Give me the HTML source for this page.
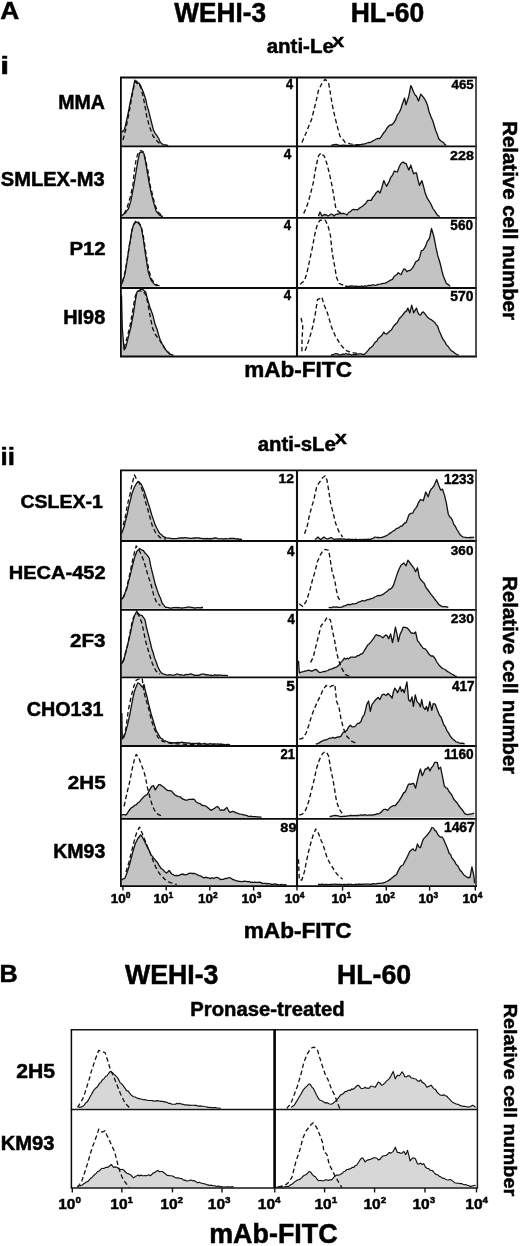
<!DOCTYPE html>
<html><head><meta charset="utf-8"><title>Figure</title>
<style>
html,body{margin:0;padding:0;background:#fff;}
body{width:520px;height:1246px;overflow:hidden;}
svg{display:block;filter:blur(0.35px);}
svg text{font-family:"Liberation Sans", sans-serif;font-weight:bold;fill:#000;stroke:#000;stroke-width:0.5px;}
.num text{stroke-width:0.4px;}
</style></head>
<body>
<svg width="520" height="1246" viewBox="0 0 520 1246">
<rect x="0" y="0" width="520" height="1246" fill="#fff"/>
<polygon points="121.5,146.0 121.5,132.1 124.0,130.4 125.3,126.2 126.7,120.0 128.4,112.0 130.1,102.7 132.7,90.6 134.8,80.2 137.0,83.7 138.8,82.8 140.5,85.4 143.1,91.4 145.7,99.2 147.0,105.4 148.3,109.6 150.9,120.0 153.5,130.4 155.2,133.4 156.9,135.6 158.7,138.5 160.4,142.5 163.0,144.6 164.7,144.9 166.5,145.0 168.2,145.6 168.2,146.0" fill="#c3c3c3" stroke="none"/>
<polyline points="123.0,140.0 126.0,128.0 129.0,113.0 132.0,96.0 134.5,84.0 136.5,81.0 139.0,84.0 141.0,88.0 143.0,96.0 145.0,106.0 147.0,118.0 150.0,128.0 153.0,136.0 155.0,138.6 157.0,141.0 159.0,142.9 161.0,144.5" fill="none" stroke="#111" stroke-width="1.35" stroke-dasharray="4.5 2.8" stroke-linejoin="round" stroke-linecap="butt"/>
<polyline points="121.5,132.1 124.0,130.4 125.3,126.2 126.7,120.0 128.4,112.0 130.1,102.7 132.7,90.6 134.8,80.2 137.0,83.7 138.8,82.8 140.5,85.4 143.1,91.4 145.7,99.2 147.0,105.4 148.3,109.6 150.9,120.0 153.5,130.4 155.2,133.4 156.9,135.6 158.7,138.5 160.4,142.5 163.0,144.6 164.7,144.9 166.5,145.0 168.2,145.6" fill="none" stroke="#111" stroke-width="1.3" stroke-linejoin="round"/>
<polygon points="331.0,146.0 331.0,145.5 332.7,144.9 334.3,144.6 336.0,144.5 337.3,144.7 338.7,145.3 340.0,145.5 341.3,145.5 342.7,145.2 344.0,145.1 345.3,145.3 346.7,145.3 348.0,145.3 349.3,145.4 350.7,145.7 352.0,145.4 353.3,145.2 354.7,145.2 356.0,145.5 357.3,145.4 358.7,145.0 360.0,144.7 361.3,144.5 362.7,144.2 364.0,144.2 365.5,143.6 367.0,143.0 368.5,142.5 370.0,142.5 371.6,141.8 373.1,140.7 374.7,140.0 376.3,139.0 378.1,138.3 380.0,138.5 381.9,135.7 383.8,132.7 385.4,130.9 387.1,128.0 388.7,126.0 390.1,125.0 391.5,125.0 393.4,123.3 395.4,120.2 397.3,115.2 399.2,112.5 400.6,109.6 402.1,104.8 404.6,98.1 406.0,104.8 407.4,100.5 408.8,96.2 410.8,85.6 412.2,88.4 413.7,92.3 415.1,95.0 416.5,96.2 418.5,101.0 420.8,94.2 423.3,97.1 424.8,99.3 426.2,101.9 427.6,105.5 429.0,111.5 430.9,116.6 432.9,121.2 434.4,126.3 435.8,130.8 437.2,134.1 438.7,138.5 440.1,140.4 441.5,141.3 443.1,142.2 444.7,144.3 446.3,145.2 446.3,146.0" fill="#c3c3c3" stroke="none"/>
<polyline points="301.9,142.5 303.6,138.7 305.4,134.5 307.1,130.4 309.2,125.1 311.4,120.0 314.0,109.6 316.6,99.2 318.4,90.6 320.5,86.2 322.7,81.9 325.3,79.3 327.0,81.3 328.7,83.7 330.5,94.0 332.2,104.4 334.8,116.5 337.4,126.9 340.0,136.4 341.7,138.3 343.5,140.2 345.2,142.5 346.9,142.9 348.6,143.3 350.4,143.8 352.1,144.2 353.8,144.3 355.6,144.6 357.3,144.7 359.1,144.7 360.8,145.0" fill="none" stroke="#111" stroke-width="1.35" stroke-dasharray="4.5 2.8" stroke-linejoin="round" stroke-linecap="butt"/>
<polyline points="331.0,145.5 332.7,144.9 334.3,144.6 336.0,144.5 337.3,144.7 338.7,145.3 340.0,145.5 341.3,145.5 342.7,145.2 344.0,145.1 345.3,145.3 346.7,145.3 348.0,145.3 349.3,145.4 350.7,145.7 352.0,145.4 353.3,145.2 354.7,145.2 356.0,145.5 357.3,145.4 358.7,145.0 360.0,144.7 361.3,144.5 362.7,144.2 364.0,144.2 365.5,143.6 367.0,143.0 368.5,142.5 370.0,142.5 371.6,141.8 373.1,140.7 374.7,140.0 376.3,139.0 378.1,138.3 380.0,138.5 381.9,135.7 383.8,132.7 385.4,130.9 387.1,128.0 388.7,126.0 390.1,125.0 391.5,125.0 393.4,123.3 395.4,120.2 397.3,115.2 399.2,112.5 400.6,109.6 402.1,104.8 404.6,98.1 406.0,104.8 407.4,100.5 408.8,96.2 410.8,85.6 412.2,88.4 413.7,92.3 415.1,95.0 416.5,96.2 418.5,101.0 420.8,94.2 423.3,97.1 424.8,99.3 426.2,101.9 427.6,105.5 429.0,111.5 430.9,116.6 432.9,121.2 434.4,126.3 435.8,130.8 437.2,134.1 438.7,138.5 440.1,140.4 441.5,141.3 443.1,142.2 444.7,144.3 446.3,145.2" fill="none" stroke="#111" stroke-width="1.3" stroke-linejoin="round"/>
<polygon points="121.5,217.3 121.5,216.0 122.9,214.6 124.4,213.7 125.8,212.5 127.1,210.2 128.4,209.0 131.0,200.4 133.6,186.5 136.2,171.0 137.9,160.6 139.6,152.8 142.2,151.9 144.0,153.7 145.7,162.3 147.4,172.7 149.2,183.1 150.9,191.7 153.5,202.1 156.1,210.8 157.8,213.1 159.5,215.1 161.2,216.0 163.0,216.3 163.0,217.3" fill="#c3c3c3" stroke="none"/>
<polyline points="124.0,214.0 127.0,208.0 130.0,198.0 132.7,186.5 134.4,171.0 136.2,158.8 138.5,152.0 141.0,150.5 143.5,152.0 145.5,160.0 148.3,172.7 150.0,184.8 152.6,195.2 155.0,205.0 158.0,212.0 160.0,213.9 162.0,215.5" fill="none" stroke="#111" stroke-width="1.35" stroke-dasharray="4.5 2.8" stroke-linejoin="round" stroke-linecap="butt"/>
<polyline points="121.5,216.0 122.9,214.6 124.4,213.7 125.8,212.5 127.1,210.2 128.4,209.0 131.0,200.4 133.6,186.5 136.2,171.0 137.9,160.6 139.6,152.8 142.2,151.9 144.0,153.7 145.7,162.3 147.4,172.7 149.2,183.1 150.9,191.7 153.5,202.1 156.1,210.8 157.8,213.1 159.5,215.1 161.2,216.0 163.0,216.3" fill="none" stroke="#111" stroke-width="1.3" stroke-linejoin="round"/>
<polygon points="318.4,217.3 318.4,216.0 320.0,212.0 322.0,216.0 323.5,214.9 325.0,214.5 326.5,214.9 328.0,216.0 329.5,215.2 331.0,214.0 332.5,214.6 334.0,216.0 335.5,214.7 337.0,214.0 338.5,214.0 340.0,213.5 341.3,213.7 342.7,213.3 344.0,213.5 345.5,214.0 347.0,215.0 348.7,212.5 350.4,211.6 352.1,209.9 353.8,209.4 355.6,209.6 357.3,209.9 359.1,208.4 360.8,207.3 362.5,206.3 364.2,204.7 365.9,203.2 367.7,200.4 369.4,200.4 371.2,200.4 372.9,197.1 374.6,195.2 376.4,192.4 378.1,190.9 380.0,193.1 381.9,187.2 383.8,180.6 385.2,183.5 386.7,186.3 388.0,183.6 389.3,181.3 390.6,177.7 392.5,175.1 394.4,171.0 395.9,171.7 397.3,171.9 399.2,166.8 401.2,163.3 403.1,161.9 404.6,163.3 406.0,163.3 407.4,166.8 408.8,170.0 410.8,165.2 412.2,169.8 413.7,173.8 415.1,173.0 416.5,172.9 417.9,179.3 419.4,185.4 421.9,180.6 423.5,186.2 425.2,193.1 427.1,197.9 429.0,200.8 430.9,204.0 432.9,208.5 434.8,211.2 436.7,214.2 438.1,215.6 439.6,216.5 439.6,217.3" fill="#c3c3c3" stroke="none"/>
<polyline points="303.7,213.4 305.4,209.7 307.1,205.6 308.9,199.8 310.6,193.5 313.2,183.1 314.9,172.7 316.6,164.0 318.4,156.2 321.0,152.8 322.7,154.7 324.4,156.2 327.0,164.0 329.6,174.4 332.2,186.5 333.9,196.9 335.7,207.3 338.3,211.6 340.0,212.4 341.7,213.4" fill="none" stroke="#111" stroke-width="1.35" stroke-dasharray="4.5 2.8" stroke-linejoin="round" stroke-linecap="butt"/>
<polyline points="318.4,216.0 320.0,212.0 322.0,216.0 323.5,214.9 325.0,214.5 326.5,214.9 328.0,216.0 329.5,215.2 331.0,214.0 332.5,214.6 334.0,216.0 335.5,214.7 337.0,214.0 338.5,214.0 340.0,213.5 341.3,213.7 342.7,213.3 344.0,213.5 345.5,214.0 347.0,215.0 348.7,212.5 350.4,211.6 352.1,209.9 353.8,209.4 355.6,209.6 357.3,209.9 359.1,208.4 360.8,207.3 362.5,206.3 364.2,204.7 365.9,203.2 367.7,200.4 369.4,200.4 371.2,200.4 372.9,197.1 374.6,195.2 376.4,192.4 378.1,190.9 380.0,193.1 381.9,187.2 383.8,180.6 385.2,183.5 386.7,186.3 388.0,183.6 389.3,181.3 390.6,177.7 392.5,175.1 394.4,171.0 395.9,171.7 397.3,171.9 399.2,166.8 401.2,163.3 403.1,161.9 404.6,163.3 406.0,163.3 407.4,166.8 408.8,170.0 410.8,165.2 412.2,169.8 413.7,173.8 415.1,173.0 416.5,172.9 417.9,179.3 419.4,185.4 421.9,180.6 423.5,186.2 425.2,193.1 427.1,197.9 429.0,200.8 430.9,204.0 432.9,208.5 434.8,211.2 436.7,214.2 438.1,215.6 439.6,216.5" fill="none" stroke="#111" stroke-width="1.3" stroke-linejoin="round"/>
<polygon points="121.5,286.8 121.5,284.2 124.1,277.3 125.4,271.3 126.7,263.5 129.2,246.2 130.5,239.3 131.8,230.6 133.6,224.5 135.3,222.8 137.0,221.9 139.6,224.5 141.4,228.0 143.1,237.5 144.8,249.6 146.6,261.7 148.3,272.1 150.9,279.9 152.6,282.1 154.3,284.2 156.1,285.2 157.8,285.6 157.8,286.8" fill="#c3c3c3" stroke="none"/>
<polyline points="122.5,282.0 125.0,272.0 127.5,258.0 130.0,242.0 132.0,230.0 134.0,224.0 136.0,220.5 138.5,222.0 141.0,226.0 143.0,234.0 145.0,247.0 147.0,260.0 149.0,271.0 152.0,280.0 154.0,282.1 156.0,284.5 158.0,285.3 160.0,285.8" fill="none" stroke="#111" stroke-width="1.35" stroke-dasharray="4.5 2.8" stroke-linejoin="round" stroke-linecap="butt"/>
<polyline points="121.5,284.2 124.1,277.3 125.4,271.3 126.7,263.5 129.2,246.2 130.5,239.3 131.8,230.6 133.6,224.5 135.3,222.8 137.0,221.9 139.6,224.5 141.4,228.0 143.1,237.5 144.8,249.6 146.6,261.7 148.3,272.1 150.9,279.9 152.6,282.1 154.3,284.2 156.1,285.2 157.8,285.6" fill="none" stroke="#111" stroke-width="1.3" stroke-linejoin="round"/>
<polygon points="345.0,287.7 345.0,286.5 346.4,286.2 347.8,286.3 349.2,286.3 350.6,286.0 352.0,286.0 353.3,286.2 354.7,286.4 356.0,286.2 357.3,286.4 358.7,286.4 360.0,286.5 361.3,286.0 362.7,286.3 364.0,286.1 365.3,286.0 366.7,286.1 368.0,285.5 369.4,285.4 370.8,285.7 372.1,284.9 373.5,284.9 374.9,285.3 376.3,285.1 378.1,284.3 380.0,284.2 381.9,283.7 383.8,283.3 385.4,283.1 387.1,282.3 388.7,281.3 390.6,280.1 392.5,279.4 393.9,276.8 395.4,275.6 396.9,274.5 398.3,272.7 399.8,274.0 401.2,274.6 402.6,271.3 404.0,268.8 405.4,269.6 406.9,271.7 408.2,270.7 409.5,270.7 410.8,269.8 412.2,268.4 413.7,266.0 415.6,262.1 417.1,260.9 418.5,260.2 419.9,256.4 421.3,250.6 422.8,250.4 424.2,248.7 425.6,246.1 427.1,241.9 429.6,238.1 431.5,228.5 433.8,236.2 435.8,246.7 437.7,255.4 439.1,259.7 440.6,265.0 442.1,271.6 443.5,276.5 444.9,279.9 446.3,283.3 448.2,284.6 450.2,286.2 450.2,287.7" fill="#c3c3c3" stroke="none"/>
<polyline points="300.2,284.2 302.4,282.3 304.5,280.8 307.1,272.1 309.7,260.0 312.3,247.9 314.9,234.0 317.5,223.7 320.1,220.2 321.8,220.2 323.6,220.1 325.3,220.2 327.9,225.4 330.5,235.8 332.2,253.1 334.8,266.9 336.5,277.3 339.1,283.4 341.3,284.4 343.5,285.1" fill="none" stroke="#111" stroke-width="1.35" stroke-dasharray="4.5 2.8" stroke-linejoin="round" stroke-linecap="butt"/>
<polyline points="345.0,286.5 346.4,286.2 347.8,286.3 349.2,286.3 350.6,286.0 352.0,286.0 353.3,286.2 354.7,286.4 356.0,286.2 357.3,286.4 358.7,286.4 360.0,286.5 361.3,286.0 362.7,286.3 364.0,286.1 365.3,286.0 366.7,286.1 368.0,285.5 369.4,285.4 370.8,285.7 372.1,284.9 373.5,284.9 374.9,285.3 376.3,285.1 378.1,284.3 380.0,284.2 381.9,283.7 383.8,283.3 385.4,283.1 387.1,282.3 388.7,281.3 390.6,280.1 392.5,279.4 393.9,276.8 395.4,275.6 396.9,274.5 398.3,272.7 399.8,274.0 401.2,274.6 402.6,271.3 404.0,268.8 405.4,269.6 406.9,271.7 408.2,270.7 409.5,270.7 410.8,269.8 412.2,268.4 413.7,266.0 415.6,262.1 417.1,260.9 418.5,260.2 419.9,256.4 421.3,250.6 422.8,250.4 424.2,248.7 425.6,246.1 427.1,241.9 429.6,238.1 431.5,228.5 433.8,236.2 435.8,246.7 437.7,255.4 439.1,259.7 440.6,265.0 442.1,271.6 443.5,276.5 444.9,279.9 446.3,283.3 448.2,284.6 450.2,286.2" fill="none" stroke="#111" stroke-width="1.3" stroke-linejoin="round"/>
<polygon points="121.5,356.0 121.5,295.4 122.3,328.3 124.1,349.9 125.8,347.3 127.1,342.2 128.4,336.9 131.0,326.5 133.6,312.7 135.3,300.6 137.0,291.9 139.6,290.2 141.1,289.3 142.5,289.3 144.0,290.5 145.7,291.9 147.4,298.8 150.0,307.5 152.6,314.4 155.2,324.8 156.9,328.8 158.7,335.2 160.4,340.4 162.1,343.8 163.6,346.1 165.0,348.8 166.5,350.8 168.2,352.5 169.9,354.2 171.7,354.6 173.4,355.1 173.4,356.0" fill="#c3c3c3" stroke="none"/>
<polyline points="124.0,348.0 127.0,338.0 130.0,326.0 132.5,312.0 134.5,300.0 136.5,292.0 139.0,290.5 141.0,291.1 143.0,291.0 146.0,295.0 148.3,305.8 150.5,318.0 152.6,328.3 155.0,334.0 158.0,338.0 160.0,340.7 162.0,344.0 164.0,347.3 166.0,350.0 168.0,351.9 170.0,354.0" fill="none" stroke="#111" stroke-width="1.35" stroke-dasharray="4.5 2.8" stroke-linejoin="round" stroke-linecap="butt"/>
<polyline points="121.5,295.4 122.3,328.3 124.1,349.9 125.8,347.3 127.1,342.2 128.4,336.9 131.0,326.5 133.6,312.7 135.3,300.6 137.0,291.9 139.6,290.2 141.1,289.3 142.5,289.3 144.0,290.5 145.7,291.9 147.4,298.8 150.0,307.5 152.6,314.4 155.2,324.8 156.9,328.8 158.7,335.2 160.4,340.4 162.1,343.8 163.6,346.1 165.0,348.8 166.5,350.8 168.2,352.5 169.9,354.2 171.7,354.6 173.4,355.1" fill="none" stroke="#111" stroke-width="1.3" stroke-linejoin="round"/>
<polygon points="331.0,356.2 331.0,355.0 332.7,354.8 334.3,354.2 336.0,353.5 337.3,353.9 338.7,354.6 340.0,355.0 341.5,354.7 343.0,354.0 344.5,354.3 346.0,353.5 347.5,354.3 349.0,354.0 350.5,354.6 352.0,355.0 353.5,354.5 355.0,354.6 356.5,354.5 358.0,354.0 359.5,353.9 361.0,353.9 362.5,354.4 364.0,354.5 365.9,352.9 367.7,350.8 369.4,348.6 371.2,347.2 372.9,345.6 374.2,343.6 375.5,341.9 376.8,341.2 378.1,338.7 380.0,336.9 381.9,335.2 383.8,332.1 385.2,333.7 386.7,334.0 388.1,332.7 389.6,331.2 391.6,329.7 393.5,326.3 395.4,324.3 397.3,322.5 399.2,318.8 401.2,316.7 403.1,314.5 405.0,311.9 406.4,311.1 407.9,308.1 409.8,312.9 411.7,305.2 413.7,312.9 415.1,310.4 416.5,308.1 417.9,312.6 419.4,314.8 420.7,314.9 422.0,312.6 423.3,311.9 425.2,314.0 427.1,316.7 429.1,318.5 431.0,319.6 432.9,321.0 434.8,322.5 436.2,324.6 437.7,326.3 439.1,330.8 440.6,334.0 442.1,337.6 443.5,339.8 444.9,341.8 446.3,344.6 448.2,346.5 450.2,349.4 451.8,351.0 453.4,351.9 455.0,353.3 456.9,354.5 458.8,355.2 458.8,356.2" fill="#c3c3c3" stroke="none"/>
<polyline points="301.1,317.9 302.8,326.5 302.0,340.0 301.9,350.8 305.0,351.0 306.9,346.0 308.8,340.4 310.6,334.4 312.3,328.3 314.9,316.2 317.5,299.7 319.6,298.6 321.8,297.1 324.4,305.8 326.1,309.6 327.9,314.4 329.6,320.4 331.3,326.5 333.5,331.8 335.7,336.9 337.9,340.2 340.0,343.8 341.7,345.9 343.5,348.0 345.2,349.9 346.9,350.9 348.7,351.5 350.4,352.5 352.1,352.8 353.9,352.9 355.6,353.1 357.3,353.4" fill="none" stroke="#111" stroke-width="1.35" stroke-dasharray="4.5 2.8" stroke-linejoin="round" stroke-linecap="butt"/>
<polyline points="331.0,355.0 332.7,354.8 334.3,354.2 336.0,353.5 337.3,353.9 338.7,354.6 340.0,355.0 341.5,354.7 343.0,354.0 344.5,354.3 346.0,353.5 347.5,354.3 349.0,354.0 350.5,354.6 352.0,355.0 353.5,354.5 355.0,354.6 356.5,354.5 358.0,354.0 359.5,353.9 361.0,353.9 362.5,354.4 364.0,354.5 365.9,352.9 367.7,350.8 369.4,348.6 371.2,347.2 372.9,345.6 374.2,343.6 375.5,341.9 376.8,341.2 378.1,338.7 380.0,336.9 381.9,335.2 383.8,332.1 385.2,333.7 386.7,334.0 388.1,332.7 389.6,331.2 391.6,329.7 393.5,326.3 395.4,324.3 397.3,322.5 399.2,318.8 401.2,316.7 403.1,314.5 405.0,311.9 406.4,311.1 407.9,308.1 409.8,312.9 411.7,305.2 413.7,312.9 415.1,310.4 416.5,308.1 417.9,312.6 419.4,314.8 420.7,314.9 422.0,312.6 423.3,311.9 425.2,314.0 427.1,316.7 429.1,318.5 431.0,319.6 432.9,321.0 434.8,322.5 436.2,324.6 437.7,326.3 439.1,330.8 440.6,334.0 442.1,337.6 443.5,339.8 444.9,341.8 446.3,344.6 448.2,346.5 450.2,349.4 451.8,351.0 453.4,351.9 455.0,353.3 456.9,354.5 458.8,355.2" fill="none" stroke="#111" stroke-width="1.3" stroke-linejoin="round"/>
<line x1="120.0" y1="77.5" x2="477.0" y2="77.5" stroke="#0a0a0a" stroke-width="1.8"/>
<line x1="120.0" y1="146.4" x2="477.0" y2="146.4" stroke="#0a0a0a" stroke-width="1.8"/>
<line x1="120.0" y1="217.9" x2="477.0" y2="217.9" stroke="#0a0a0a" stroke-width="1.8"/>
<line x1="120.0" y1="288.0" x2="477.0" y2="288.0" stroke="#0a0a0a" stroke-width="1.8"/>
<line x1="120.0" y1="356.5" x2="477.0" y2="356.5" stroke="#0a0a0a" stroke-width="1.8"/>
<line x1="120.9" y1="77.5" x2="120.9" y2="356.5" stroke="#0a0a0a" stroke-width="1.8"/>
<line x1="297.0" y1="77.5" x2="297.0" y2="356.5" stroke="#111" stroke-width="2.1"/>
<line x1="476.0" y1="77.5" x2="476.0" y2="356.5" stroke="#333" stroke-width="1.7"/>
<polygon points="121.5,540.3 121.5,533.8 124.1,526.8 125.4,521.2 126.7,516.5 129.2,504.3 130.5,499.9 131.8,494.0 134.4,487.0 137.0,482.7 138.8,481.8 141.4,484.4 144.0,490.5 146.6,498.3 149.2,506.1 151.7,514.7 153.4,519.6 155.2,525.1 156.9,528.3 158.7,532.0 160.1,533.7 161.6,534.7 163.0,536.4 164.7,537.2 166.5,537.9 168.2,538.1 169.6,538.1 170.9,538.5 172.3,538.6 173.6,538.6 175.0,538.6 176.4,538.7 177.8,538.3 179.2,537.8 180.6,538.2 182.0,537.6 183.3,538.1 184.7,537.6 186.0,537.6 187.3,538.1 188.7,538.1 190.0,538.4 191.3,538.4 192.7,538.1 194.0,537.9 195.3,538.0 196.7,537.8 198.0,537.8 199.3,538.0 200.7,538.3 202.0,538.3 203.3,538.8 204.7,538.3 206.0,538.8 207.3,538.5 208.7,538.8 210.0,538.5 211.3,538.8 212.7,538.5 214.0,538.2 215.3,537.9 216.7,538.1 218.0,538.6 219.3,539.0 220.7,538.5 222.0,538.9 223.4,539.0 224.9,538.8 226.3,538.5 227.7,539.0 229.1,538.5 230.6,538.4 232.0,538.5 233.4,538.3 234.9,538.5 236.3,539.2 237.7,538.6 239.1,539.4 240.6,539.2 242.0,539.3 242.0,540.3" fill="#c3c3c3" stroke="none"/>
<polyline points="123.2,525.1 125.8,514.7 127.5,504.3 130.1,494.0 131.8,485.3 134.4,474.9 137.0,480.0 140.0,484.0 143.0,492.0 145.7,502.6 147.4,508.2 149.2,514.7 150.9,520.8 152.6,526.8 154.3,530.0 156.1,533.8 158.1,535.6 160.0,537.5 162.0,538.1 164.0,538.7 166.0,539.0" fill="none" stroke="#111" stroke-width="1.35" stroke-dasharray="4.5 2.8" stroke-linejoin="round" stroke-linecap="butt"/>
<polyline points="121.5,533.8 124.1,526.8 125.4,521.2 126.7,516.5 129.2,504.3 130.5,499.9 131.8,494.0 134.4,487.0 137.0,482.7 138.8,481.8 141.4,484.4 144.0,490.5 146.6,498.3 149.2,506.1 151.7,514.7 153.4,519.6 155.2,525.1 156.9,528.3 158.7,532.0 160.1,533.7 161.6,534.7 163.0,536.4 164.7,537.2 166.5,537.9 168.2,538.1 169.6,538.1 170.9,538.5 172.3,538.6 173.6,538.6 175.0,538.6 176.4,538.7 177.8,538.3 179.2,537.8 180.6,538.2 182.0,537.6 183.3,538.1 184.7,537.6 186.0,537.6 187.3,538.1 188.7,538.1 190.0,538.4 191.3,538.4 192.7,538.1 194.0,537.9 195.3,538.0 196.7,537.8 198.0,537.8 199.3,538.0 200.7,538.3 202.0,538.3 203.3,538.8 204.7,538.3 206.0,538.8 207.3,538.5 208.7,538.8 210.0,538.5 211.3,538.8 212.7,538.5 214.0,538.2 215.3,537.9 216.7,538.1 218.0,538.6 219.3,539.0 220.7,538.5 222.0,538.9 223.4,539.0 224.9,538.8 226.3,538.5 227.7,539.0 229.1,538.5 230.6,538.4 232.0,538.5 233.4,538.3 234.9,538.5 236.3,539.2 237.7,538.6 239.1,539.4 240.6,539.2 242.0,539.3" fill="none" stroke="#111" stroke-width="1.3" stroke-linejoin="round"/>
<polygon points="315.0,540.7 315.0,539.5 316.5,538.4 318.0,537.0 319.5,538.6 321.0,539.5 322.5,538.1 324.0,537.0 325.5,538.2 327.0,539.0 328.3,538.5 329.7,538.1 331.0,537.5 332.5,538.3 334.0,539.5 335.5,539.0 337.0,539.1 338.5,538.8 340.0,539.0 341.4,538.9 342.9,539.2 344.3,538.9 345.7,539.5 347.1,539.5 348.6,539.2 350.0,539.5 351.4,539.5 352.9,539.5 354.3,539.6 355.7,539.1 357.1,539.6 358.6,539.6 360.0,539.3 361.4,539.6 362.8,539.5 364.2,539.5 365.6,539.5 367.0,539.4 368.4,539.2 369.8,539.3 371.2,539.0 373.1,538.3 375.0,537.0 376.7,537.5 378.3,537.3 380.0,537.6 381.6,537.4 383.2,537.0 384.8,536.3 386.4,535.7 388.0,534.7 389.6,533.4 391.2,532.6 392.8,531.1 394.4,530.5 396.0,528.9 397.6,528.2 399.2,527.6 400.5,526.1 401.8,526.2 403.1,524.7 404.6,523.0 406.0,522.8 407.4,519.2 408.8,515.1 410.8,513.3 412.7,513.2 414.1,510.2 415.6,508.4 417.1,506.2 418.5,502.6 420.4,499.7 421.9,499.8 423.3,500.7 425.8,492.0 428.1,496.8 429.6,492.1 431.0,489.2 432.4,487.9 433.8,486.3 435.2,482.9 436.7,479.5 438.7,485.3 440.6,490.1 442.5,489.2 444.4,494.9 446.3,502.6 448.3,514.2 449.8,516.9 451.2,518.0 452.6,520.9 454.0,524.7 455.4,526.5 456.9,529.5 458.4,531.8 459.8,534.3 461.2,535.8 462.7,536.8 464.1,537.1 465.6,537.3 467.1,537.6 468.5,537.6 469.9,537.5 471.4,537.5 472.8,537.4 474.2,537.2 474.2,540.7" fill="#c3c3c3" stroke="none"/>
<polyline points="304.5,533.8 307.1,526.8 308.8,518.2 311.4,507.8 314.0,499.2 316.6,487.0 319.2,482.7 320.9,480.5 322.7,477.5 325.3,475.8 327.0,480.1 328.7,490.5 330.5,502.6 333.1,513.0 335.7,523.4 337.4,527.9 339.1,532.0 340.9,534.4 342.6,537.2" fill="none" stroke="#111" stroke-width="1.35" stroke-dasharray="4.5 2.8" stroke-linejoin="round" stroke-linecap="butt"/>
<polyline points="315.0,539.5 316.5,538.4 318.0,537.0 319.5,538.6 321.0,539.5 322.5,538.1 324.0,537.0 325.5,538.2 327.0,539.0 328.3,538.5 329.7,538.1 331.0,537.5 332.5,538.3 334.0,539.5 335.5,539.0 337.0,539.1 338.5,538.8 340.0,539.0 341.4,538.9 342.9,539.2 344.3,538.9 345.7,539.5 347.1,539.5 348.6,539.2 350.0,539.5 351.4,539.5 352.9,539.5 354.3,539.6 355.7,539.1 357.1,539.6 358.6,539.6 360.0,539.3 361.4,539.6 362.8,539.5 364.2,539.5 365.6,539.5 367.0,539.4 368.4,539.2 369.8,539.3 371.2,539.0 373.1,538.3 375.0,537.0 376.7,537.5 378.3,537.3 380.0,537.6 381.6,537.4 383.2,537.0 384.8,536.3 386.4,535.7 388.0,534.7 389.6,533.4 391.2,532.6 392.8,531.1 394.4,530.5 396.0,528.9 397.6,528.2 399.2,527.6 400.5,526.1 401.8,526.2 403.1,524.7 404.6,523.0 406.0,522.8 407.4,519.2 408.8,515.1 410.8,513.3 412.7,513.2 414.1,510.2 415.6,508.4 417.1,506.2 418.5,502.6 420.4,499.7 421.9,499.8 423.3,500.7 425.8,492.0 428.1,496.8 429.6,492.1 431.0,489.2 432.4,487.9 433.8,486.3 435.2,482.9 436.7,479.5 438.7,485.3 440.6,490.1 442.5,489.2 444.4,494.9 446.3,502.6 448.3,514.2 449.8,516.9 451.2,518.0 452.6,520.9 454.0,524.7 455.4,526.5 456.9,529.5 458.4,531.8 459.8,534.3 461.2,535.8 462.7,536.8 464.1,537.1 465.6,537.3 467.1,537.6 468.5,537.6 469.9,537.5 471.4,537.5 472.8,537.4 474.2,537.2" fill="none" stroke="#111" stroke-width="1.3" stroke-linejoin="round"/>
<polygon points="121.5,608.7 121.5,599.6 124.1,596.1 125.4,591.8 126.7,589.2 129.2,578.8 130.5,573.9 131.8,568.4 134.4,558.0 137.0,551.1 139.6,548.5 142.2,550.2 143.5,550.6 144.8,552.8 147.4,555.4 149.2,558.0 150.9,566.7 152.6,573.6 155.2,584.0 156.9,589.3 158.7,594.4 160.4,598.0 162.1,603.0 163.8,605.2 165.6,607.4 167.0,607.4 168.5,607.6 169.9,608.2 171.6,608.0 173.3,607.7 175.0,607.6 176.4,607.3 177.8,607.8 179.2,607.5 180.6,608.0 182.0,608.0 183.4,607.9 184.8,607.7 186.2,607.6 187.6,607.0 189.0,607.2 190.4,607.1 191.8,607.5 193.2,607.6 194.6,608.0 196.0,607.9 197.4,607.7 198.8,607.6 200.2,607.9 201.6,607.3 203.0,607.5 203.0,608.7" fill="#c3c3c3" stroke="none"/>
<polyline points="123.0,598.0 126.0,590.0 128.5,580.0 131.0,568.0 133.5,556.0 136.2,545.9 139.0,550.0 141.5,555.0 144.0,561.5 145.7,567.2 147.4,573.6 149.2,579.1 150.9,584.0 153.5,594.4 155.2,599.0 156.9,603.0 158.7,604.3 160.4,605.6" fill="none" stroke="#111" stroke-width="1.35" stroke-dasharray="4.5 2.8" stroke-linejoin="round" stroke-linecap="butt"/>
<polyline points="121.5,599.6 124.1,596.1 125.4,591.8 126.7,589.2 129.2,578.8 130.5,573.9 131.8,568.4 134.4,558.0 137.0,551.1 139.6,548.5 142.2,550.2 143.5,550.6 144.8,552.8 147.4,555.4 149.2,558.0 150.9,566.7 152.6,573.6 155.2,584.0 156.9,589.3 158.7,594.4 160.4,598.0 162.1,603.0 163.8,605.2 165.6,607.4 167.0,607.4 168.5,607.6 169.9,608.2 171.6,608.0 173.3,607.7 175.0,607.6 176.4,607.3 177.8,607.8 179.2,607.5 180.6,608.0 182.0,608.0 183.4,607.9 184.8,607.7 186.2,607.6 187.6,607.0 189.0,607.2 190.4,607.1 191.8,607.5 193.2,607.6 194.6,608.0 196.0,607.9 197.4,607.7 198.8,607.6 200.2,607.9 201.6,607.3 203.0,607.5" fill="none" stroke="#111" stroke-width="1.3" stroke-linejoin="round"/>
<polygon points="328.7,608.6 328.7,607.4 330.3,607.6 331.9,607.5 333.4,606.9 335.0,607.2 336.7,606.9 338.3,607.3 340.0,607.4 341.4,607.2 342.8,606.6 344.1,605.9 345.5,605.7 346.9,604.8 348.3,604.5 349.7,604.7 351.0,604.5 352.4,603.7 353.8,603.9 355.2,603.7 356.6,603.3 358.0,602.2 359.4,601.8 360.8,601.3 362.2,600.5 363.6,600.9 364.9,600.9 366.3,600.1 367.7,599.6 369.1,599.5 370.5,598.8 371.8,598.3 373.2,598.2 374.6,597.0 376.0,596.5 377.3,595.8 378.6,595.4 380.0,595.7 381.9,594.8 383.8,593.8 385.8,592.3 387.7,590.9 389.1,589.3 390.6,589.0 392.1,587.6 393.5,585.2 395.4,579.4 397.3,573.6 399.2,568.8 401.2,565.0 402.6,563.9 404.0,563.0 406.0,565.9 407.9,560.2 409.4,562.2 410.8,564.0 412.2,565.8 413.7,567.8 415.6,571.7 417.5,567.8 419.4,577.5 421.3,580.3 422.8,581.9 424.2,583.2 425.6,586.9 427.1,589.0 428.6,591.0 430.0,592.8 431.4,594.9 432.9,596.7 434.4,598.6 435.8,600.5 437.2,602.1 438.7,604.4 440.6,605.6 442.5,606.7 443.9,606.7 445.4,606.7 446.9,606.8 448.3,607.3 448.3,608.6" fill="#c3c3c3" stroke="none"/>
<polyline points="299.3,603.9 301.1,605.2 302.8,606.5 304.5,603.9 306.2,601.3 307.9,596.3 309.7,590.9 312.3,580.5 314.9,571.9 317.5,561.5 320.1,555.4 322.7,551.1 325.3,549.4 327.0,549.9 328.7,550.2 330.5,561.5 332.2,571.9 334.8,580.5 336.5,590.9 338.3,597.8 340.9,601.3" fill="none" stroke="#111" stroke-width="1.35" stroke-dasharray="4.5 2.8" stroke-linejoin="round" stroke-linecap="butt"/>
<polyline points="328.7,607.4 330.3,607.6 331.9,607.5 333.4,606.9 335.0,607.2 336.7,606.9 338.3,607.3 340.0,607.4 341.4,607.2 342.8,606.6 344.1,605.9 345.5,605.7 346.9,604.8 348.3,604.5 349.7,604.7 351.0,604.5 352.4,603.7 353.8,603.9 355.2,603.7 356.6,603.3 358.0,602.2 359.4,601.8 360.8,601.3 362.2,600.5 363.6,600.9 364.9,600.9 366.3,600.1 367.7,599.6 369.1,599.5 370.5,598.8 371.8,598.3 373.2,598.2 374.6,597.0 376.0,596.5 377.3,595.8 378.6,595.4 380.0,595.7 381.9,594.8 383.8,593.8 385.8,592.3 387.7,590.9 389.1,589.3 390.6,589.0 392.1,587.6 393.5,585.2 395.4,579.4 397.3,573.6 399.2,568.8 401.2,565.0 402.6,563.9 404.0,563.0 406.0,565.9 407.9,560.2 409.4,562.2 410.8,564.0 412.2,565.8 413.7,567.8 415.6,571.7 417.5,567.8 419.4,577.5 421.3,580.3 422.8,581.9 424.2,583.2 425.6,586.9 427.1,589.0 428.6,591.0 430.0,592.8 431.4,594.9 432.9,596.7 434.4,598.6 435.8,600.5 437.2,602.1 438.7,604.4 440.6,605.6 442.5,606.7 443.9,606.7 445.4,606.7 446.9,606.8 448.3,607.3" fill="none" stroke="#111" stroke-width="1.3" stroke-linejoin="round"/>
<polygon points="121.5,676.2 121.5,664.1 124.1,658.9 125.4,652.8 126.7,648.5 129.2,638.2 130.5,632.9 131.8,626.0 134.4,615.7 136.7,611.3 138.1,613.2 139.6,614.8 142.2,615.7 143.5,617.8 144.8,619.1 146.6,627.8 149.2,638.2 151.7,648.5 153.0,652.2 154.3,657.2 156.1,661.7 157.8,666.7 159.6,670.3 161.3,672.8 163.0,673.9 164.8,674.3 166.5,674.8 167.9,675.1 169.2,674.7 170.6,674.9 172.0,675.2 173.5,675.1 175.0,674.8 176.5,674.2 178.0,674.2 179.5,674.8 181.0,674.7 182.5,675.2 184.0,675.3 185.5,674.6 187.0,674.5 188.5,674.6 190.0,674.0 191.5,674.0 193.0,674.6 194.5,675.3 196.0,675.4 197.4,675.2 198.8,675.3 200.2,674.7 201.6,674.1 203.0,674.2 204.4,674.1 205.8,674.8 207.2,674.7 208.6,674.9 210.0,675.5 211.3,675.2 212.7,675.7 214.0,675.0 215.3,675.0 216.7,675.3 218.0,675.0 219.4,675.2 220.9,675.2 222.3,675.4 223.7,675.4 225.1,675.3 226.6,675.5 228.0,675.6 228.0,676.2" fill="#c3c3c3" stroke="none"/>
<polyline points="123.0,662.0 126.0,652.0 128.4,641.6 130.5,630.0 132.5,620.0 135.3,613.9 138.0,614.0 140.0,618.0 142.2,624.3 143.9,632.8 145.7,641.6 147.4,647.2 149.2,653.7 150.9,659.2 152.6,664.1 154.3,667.8 156.0,671.0 158.0,672.7 160.0,674.0" fill="none" stroke="#111" stroke-width="1.35" stroke-dasharray="4.5 2.8" stroke-linejoin="round" stroke-linecap="butt"/>
<polyline points="121.5,664.1 124.1,658.9 125.4,652.8 126.7,648.5 129.2,638.2 130.5,632.9 131.8,626.0 134.4,615.7 136.7,611.3 138.1,613.2 139.6,614.8 142.2,615.7 143.5,617.8 144.8,619.1 146.6,627.8 149.2,638.2 151.7,648.5 153.0,652.2 154.3,657.2 156.1,661.7 157.8,666.7 159.6,670.3 161.3,672.8 163.0,673.9 164.8,674.3 166.5,674.8 167.9,675.1 169.2,674.7 170.6,674.9 172.0,675.2 173.5,675.1 175.0,674.8 176.5,674.2 178.0,674.2 179.5,674.8 181.0,674.7 182.5,675.2 184.0,675.3 185.5,674.6 187.0,674.5 188.5,674.6 190.0,674.0 191.5,674.0 193.0,674.6 194.5,675.3 196.0,675.4 197.4,675.2 198.8,675.3 200.2,674.7 201.6,674.1 203.0,674.2 204.4,674.1 205.8,674.8 207.2,674.7 208.6,674.9 210.0,675.5 211.3,675.2 212.7,675.7 214.0,675.0 215.3,675.0 216.7,675.3 218.0,675.0 219.4,675.2 220.9,675.2 222.3,675.4 223.7,675.4 225.1,675.3 226.6,675.5 228.0,675.6" fill="none" stroke="#111" stroke-width="1.3" stroke-linejoin="round"/>
<polygon points="298.5,677.8 298.5,660.7 299.3,672.8 301.9,671.9 303.3,671.6 304.7,671.2 306.0,671.0 307.4,670.5 308.8,670.2 310.6,671.0 312.3,671.0 314.1,670.1 315.8,669.3 317.5,670.8 319.2,672.4 320.6,672.4 322.0,672.0 323.4,671.5 324.8,671.7 326.2,671.0 327.9,670.5 329.6,669.3 331.3,669.1 333.1,668.3 334.8,667.6 336.6,667.1 338.3,665.8 340.9,662.4 342.6,660.6 344.3,658.1 345.8,659.3 347.2,658.2 348.7,658.9 350.4,657.2 352.1,657.2 353.9,657.1 355.6,657.2 357.3,655.7 359.0,655.5 360.8,654.0 362.5,653.7 363.8,651.5 365.1,649.4 367.7,645.1 369.4,643.7 371.2,641.6 373.7,638.2 375.0,636.0 376.3,634.7 378.1,635.5 380.0,635.8 381.4,636.8 382.9,637.8 384.4,636.3 385.8,634.9 387.2,635.8 388.7,638.7 390.6,633.9 392.5,642.6 393.9,636.0 395.4,627.2 396.9,633.7 398.3,641.6 400.2,633.9 401.6,631.2 403.1,627.2 405.0,627.3 406.9,627.8 408.4,629.2 409.8,631.0 411.2,633.1 412.7,633.0 414.1,633.5 415.6,632.0 417.5,640.7 418.9,642.1 420.4,644.5 421.9,646.6 423.3,648.3 425.2,648.9 427.1,651.2 429.1,654.3 431.0,656.0 432.9,656.0 434.8,658.0 436.8,662.0 438.7,664.7 440.6,666.8 442.5,668.5 444.1,669.0 445.7,670.0 447.3,671.4 448.9,672.3 450.5,673.2 452.1,674.3 453.7,675.0 455.3,676.1 456.9,676.6 456.9,677.8" fill="#c3c3c3" stroke="none"/>
<polyline points="310.6,662.4 313.2,657.2 315.8,646.8 318.4,636.4 321.0,626.0 323.6,622.6 325.3,620.4 327.0,617.4 328.8,619.0 330.5,620.0 332.2,629.5 334.8,641.6 336.5,652.0 338.3,659.0 341.0,667.0 343.1,670.7 345.2,674.5 346.8,675.1 348.4,675.6 350.0,676.0" fill="none" stroke="#111" stroke-width="1.35" stroke-dasharray="4.5 2.8" stroke-linejoin="round" stroke-linecap="butt"/>
<polyline points="298.5,660.7 299.3,672.8 301.9,671.9 303.3,671.6 304.7,671.2 306.0,671.0 307.4,670.5 308.8,670.2 310.6,671.0 312.3,671.0 314.1,670.1 315.8,669.3 317.5,670.8 319.2,672.4 320.6,672.4 322.0,672.0 323.4,671.5 324.8,671.7 326.2,671.0 327.9,670.5 329.6,669.3 331.3,669.1 333.1,668.3 334.8,667.6 336.6,667.1 338.3,665.8 340.9,662.4 342.6,660.6 344.3,658.1 345.8,659.3 347.2,658.2 348.7,658.9 350.4,657.2 352.1,657.2 353.9,657.1 355.6,657.2 357.3,655.7 359.0,655.5 360.8,654.0 362.5,653.7 363.8,651.5 365.1,649.4 367.7,645.1 369.4,643.7 371.2,641.6 373.7,638.2 375.0,636.0 376.3,634.7 378.1,635.5 380.0,635.8 381.4,636.8 382.9,637.8 384.4,636.3 385.8,634.9 387.2,635.8 388.7,638.7 390.6,633.9 392.5,642.6 393.9,636.0 395.4,627.2 396.9,633.7 398.3,641.6 400.2,633.9 401.6,631.2 403.1,627.2 405.0,627.3 406.9,627.8 408.4,629.2 409.8,631.0 411.2,633.1 412.7,633.0 414.1,633.5 415.6,632.0 417.5,640.7 418.9,642.1 420.4,644.5 421.9,646.6 423.3,648.3 425.2,648.9 427.1,651.2 429.1,654.3 431.0,656.0 432.9,656.0 434.8,658.0 436.8,662.0 438.7,664.7 440.6,666.8 442.5,668.5 444.1,669.0 445.7,670.0 447.3,671.4 448.9,672.3 450.5,673.2 452.1,674.3 453.7,675.0 455.3,676.1 456.9,676.6" fill="none" stroke="#111" stroke-width="1.3" stroke-linejoin="round"/>
<polygon points="121.8,746.0 121.8,713.1 122.3,739.0 123.6,736.8 124.9,734.7 127.5,725.2 130.1,713.1 132.7,699.2 134.0,692.9 135.3,688.8 137.9,682.8 139.6,683.7 142.2,687.1 144.0,684.5 145.7,692.3 147.0,696.7 148.3,702.7 150.9,713.1 153.5,721.7 156.1,730.4 157.8,733.3 159.5,736.4 161.0,738.4 162.4,738.8 163.9,740.8 165.4,740.8 166.9,741.5 168.4,742.4 169.9,742.5 171.4,742.7 172.9,743.0 174.5,742.7 176.0,742.8 177.4,742.3 178.8,742.6 180.2,742.7 181.6,742.2 183.0,742.3 184.4,742.8 185.8,742.6 187.2,743.1 188.6,742.8 190.0,743.2 191.3,743.6 192.7,743.5 194.0,743.5 195.3,743.7 196.7,743.4 198.0,743.4 199.3,743.1 200.7,743.8 202.0,743.8 203.3,743.9 204.7,743.4 206.0,743.8 207.5,744.1 209.0,744.0 210.5,743.6 212.0,744.2 213.5,743.8 215.0,744.0 216.5,744.2 218.0,743.8 219.5,744.4 221.0,744.0 222.5,744.4 224.0,744.4 225.5,744.8 227.0,744.5 228.5,744.5 230.0,744.8 230.0,746.0" fill="#c3c3c3" stroke="none"/>
<polyline points="123.5,738.0 126.0,728.0 128.4,709.6 131.0,697.5 133.6,687.1 136.2,680.2 139.0,679.0 142.2,678.5 143.0,685.0 144.0,692.3 145.7,698.6 147.4,704.4 149.2,710.8 150.9,718.3 152.6,724.0 154.3,728.7 156.1,732.7 157.8,737.3 159.5,738.7 161.3,740.4 163.0,741.6 164.8,741.8 166.6,742.3 168.4,742.8 170.2,743.0 172.0,743.5 173.6,743.7 175.3,743.5 176.9,743.9 178.5,743.8 180.2,743.9 181.8,744.1 183.5,744.1 185.1,744.4 186.7,744.4 188.4,744.5 190.0,744.5 191.7,744.6 193.3,744.6 195.0,744.6 196.7,744.5 198.3,744.7 200.0,744.8 201.7,744.9 203.3,744.8 205.0,744.8 206.7,744.9 208.3,744.9 210.0,744.9 211.7,744.9 213.3,745.1 215.0,745.0" fill="none" stroke="#111" stroke-width="1.35" stroke-dasharray="4.5 2.8" stroke-linejoin="round" stroke-linecap="butt"/>
<polyline points="121.8,713.1 122.3,739.0 123.6,736.8 124.9,734.7 127.5,725.2 130.1,713.1 132.7,699.2 134.0,692.9 135.3,688.8 137.9,682.8 139.6,683.7 142.2,687.1 144.0,684.5 145.7,692.3 147.0,696.7 148.3,702.7 150.9,713.1 153.5,721.7 156.1,730.4 157.8,733.3 159.5,736.4 161.0,738.4 162.4,738.8 163.9,740.8 165.4,740.8 166.9,741.5 168.4,742.4 169.9,742.5 171.4,742.7 172.9,743.0 174.5,742.7 176.0,742.8 177.4,742.3 178.8,742.6 180.2,742.7 181.6,742.2 183.0,742.3 184.4,742.8 185.8,742.6 187.2,743.1 188.6,742.8 190.0,743.2 191.3,743.6 192.7,743.5 194.0,743.5 195.3,743.7 196.7,743.4 198.0,743.4 199.3,743.1 200.7,743.8 202.0,743.8 203.3,743.9 204.7,743.4 206.0,743.8 207.5,744.1 209.0,744.0 210.5,743.6 212.0,744.2 213.5,743.8 215.0,744.0 216.5,744.2 218.0,743.8 219.5,744.4 221.0,744.0 222.5,744.4 224.0,744.4 225.5,744.8 227.0,744.5 228.5,744.5 230.0,744.8" fill="none" stroke="#111" stroke-width="1.3" stroke-linejoin="round"/>
<polygon points="315.8,745.2 315.8,744.2 317.5,743.6 319.3,742.8 321.0,741.6 322.7,740.9 324.5,740.0 326.2,739.9 327.9,739.0 329.6,738.2 331.3,738.2 333.0,737.3 334.8,738.1 336.5,737.3 338.0,736.8 339.4,737.0 340.9,736.4 342.2,733.7 343.5,732.1 345.2,731.5 346.9,730.4 348.6,727.0 350.4,725.2 352.1,726.8 353.8,726.9 355.6,726.0 357.3,723.5 359.1,723.3 360.8,721.7 362.5,717.1 364.2,714.8 365.5,710.2 366.8,704.4 368.6,701.0 370.3,711.3 372.0,704.4 373.3,702.9 374.6,701.0 376.4,699.0 378.1,697.5 380.0,699.5 382.0,694.8 384.0,694.2 386.1,695.5 388.1,693.5 390.1,695.5 392.1,698.2 393.5,691.5 394.8,688.1 396.2,690.1 397.5,692.8 398.8,690.1 400.2,686.7 401.5,691.5 402.9,689.4 404.2,692.8 405.6,687.4 406.9,682.0 407.9,691.5 408.5,699.5 410.3,701.6 412.0,696.8 413.4,706.3 415.3,694.8 417.0,701.6 419.0,703.6 420.4,706.9 421.7,699.5 423.1,706.9 425.1,709.6 426.4,706.3 427.8,711.0 429.8,701.6 431.8,710.3 433.2,703.6 435.2,704.2 437.2,709.6 439.6,715.4 441.1,717.2 442.5,721.2 443.9,725.0 445.4,726.9 446.9,730.6 448.3,732.7 450.2,735.9 452.1,738.5 454.1,740.0 456.0,741.9 457.6,742.2 459.2,742.8 460.8,743.3 462.7,743.2 464.6,743.8 464.6,745.2" fill="#c3c3c3" stroke="none"/>
<polyline points="299.3,739.0 301.1,738.8 302.8,738.2 304.5,735.6 306.2,733.0 308.8,725.2 311.4,716.5 314.0,709.6 316.6,703.6 318.4,699.9 320.1,696.6 322.7,690.6 324.4,687.8 326.2,685.4 327.9,686.8 329.6,687.1 331.4,686.0 333.1,685.4 334.8,684.5 335.7,692.3 336.5,701.0 339.1,707.9 340.9,718.3 343.5,728.7 345.2,732.5 346.9,736.4 348.6,738.0 350.4,739.9 352.1,741.6 353.8,742.1 355.6,742.9 357.3,743.4" fill="none" stroke="#111" stroke-width="1.35" stroke-dasharray="4.5 2.8" stroke-linejoin="round" stroke-linecap="butt"/>
<polyline points="315.8,744.2 317.5,743.6 319.3,742.8 321.0,741.6 322.7,740.9 324.5,740.0 326.2,739.9 327.9,739.0 329.6,738.2 331.3,738.2 333.0,737.3 334.8,738.1 336.5,737.3 338.0,736.8 339.4,737.0 340.9,736.4 342.2,733.7 343.5,732.1 345.2,731.5 346.9,730.4 348.6,727.0 350.4,725.2 352.1,726.8 353.8,726.9 355.6,726.0 357.3,723.5 359.1,723.3 360.8,721.7 362.5,717.1 364.2,714.8 365.5,710.2 366.8,704.4 368.6,701.0 370.3,711.3 372.0,704.4 373.3,702.9 374.6,701.0 376.4,699.0 378.1,697.5 380.0,699.5 382.0,694.8 384.0,694.2 386.1,695.5 388.1,693.5 390.1,695.5 392.1,698.2 393.5,691.5 394.8,688.1 396.2,690.1 397.5,692.8 398.8,690.1 400.2,686.7 401.5,691.5 402.9,689.4 404.2,692.8 405.6,687.4 406.9,682.0 407.9,691.5 408.5,699.5 410.3,701.6 412.0,696.8 413.4,706.3 415.3,694.8 417.0,701.6 419.0,703.6 420.4,706.9 421.7,699.5 423.1,706.9 425.1,709.6 426.4,706.3 427.8,711.0 429.8,701.6 431.8,710.3 433.2,703.6 435.2,704.2 437.2,709.6 439.6,715.4 441.1,717.2 442.5,721.2 443.9,725.0 445.4,726.9 446.9,730.6 448.3,732.7 450.2,735.9 452.1,738.5 454.1,740.0 456.0,741.9 457.6,742.2 459.2,742.8 460.8,743.3 462.7,743.2 464.6,743.8" fill="none" stroke="#111" stroke-width="1.3" stroke-linejoin="round"/>
<polygon points="121.5,818.4 121.5,815.0 122.9,814.6 124.4,814.7 125.8,815.0 127.1,813.7 128.4,811.5 131.0,808.0 132.7,807.2 134.4,805.4 136.2,804.8 137.9,802.8 139.7,801.7 141.4,799.4 143.1,797.5 144.8,795.9 147.4,794.2 149.2,790.7 151.7,786.4 153.5,785.5 155.2,789.9 156.9,787.3 158.7,784.7 160.0,784.6 161.3,785.5 163.9,787.3 166.5,789.9 168.2,790.6 169.9,790.7 171.7,791.2 173.4,793.3 175.1,795.0 176.8,795.9 178.6,796.6 180.3,796.8 182.1,798.7 183.8,799.4 185.5,800.1 187.2,800.2 188.9,799.3 190.7,799.4 192.4,799.2 194.2,799.4 195.9,801.7 197.6,802.8 200.0,803.6 201.9,805.3 203.8,805.5 205.8,806.1 207.7,807.5 209.6,809.3 211.5,810.3 212.9,809.3 214.4,808.4 215.9,807.3 217.3,806.5 218.8,807.8 220.2,810.3 222.1,809.8 224.0,810.3 225.4,808.7 226.9,807.5 228.4,810.3 229.8,812.3 231.2,811.8 232.7,811.3 234.6,811.9 236.5,813.2 237.8,813.2 239.1,813.9 240.4,814.2 242.3,814.3 244.2,815.2 245.5,815.1 246.8,815.6 248.1,816.1 249.5,816.6 250.9,816.1 252.4,816.7 253.8,816.7 255.3,816.6 256.9,816.8 258.4,816.9 260.0,817.1 261.5,817.1 261.5,818.4" fill="#c3c3c3" stroke="none"/>
<polyline points="124.1,806.3 126.7,794.2 129.2,783.8 131.0,775.2 132.7,766.5 134.4,759.6 136.2,754.4 138.8,757.8 141.4,764.8 144.0,771.7 145.7,778.6 147.4,787.3 150.0,797.7 152.6,806.3 154.3,809.8 156.1,813.2 157.8,814.1 159.6,815.1 161.3,815.7 163.0,816.7" fill="none" stroke="#111" stroke-width="1.35" stroke-dasharray="4.5 2.8" stroke-linejoin="round" stroke-linecap="butt"/>
<polyline points="121.5,815.0 122.9,814.6 124.4,814.7 125.8,815.0 127.1,813.7 128.4,811.5 131.0,808.0 132.7,807.2 134.4,805.4 136.2,804.8 137.9,802.8 139.7,801.7 141.4,799.4 143.1,797.5 144.8,795.9 147.4,794.2 149.2,790.7 151.7,786.4 153.5,785.5 155.2,789.9 156.9,787.3 158.7,784.7 160.0,784.6 161.3,785.5 163.9,787.3 166.5,789.9 168.2,790.6 169.9,790.7 171.7,791.2 173.4,793.3 175.1,795.0 176.8,795.9 178.6,796.6 180.3,796.8 182.1,798.7 183.8,799.4 185.5,800.1 187.2,800.2 188.9,799.3 190.7,799.4 192.4,799.2 194.2,799.4 195.9,801.7 197.6,802.8 200.0,803.6 201.9,805.3 203.8,805.5 205.8,806.1 207.7,807.5 209.6,809.3 211.5,810.3 212.9,809.3 214.4,808.4 215.9,807.3 217.3,806.5 218.8,807.8 220.2,810.3 222.1,809.8 224.0,810.3 225.4,808.7 226.9,807.5 228.4,810.3 229.8,812.3 231.2,811.8 232.7,811.3 234.6,811.9 236.5,813.2 237.8,813.2 239.1,813.9 240.4,814.2 242.3,814.3 244.2,815.2 245.5,815.1 246.8,815.6 248.1,816.1 249.5,816.6 250.9,816.1 252.4,816.7 253.8,816.7 255.3,816.6 256.9,816.8 258.4,816.9 260.0,817.1 261.5,817.1" fill="none" stroke="#111" stroke-width="1.3" stroke-linejoin="round"/>
<polygon points="329.6,817.5 329.6,816.5 331.0,816.3 332.3,816.0 333.6,815.6 335.0,815.5 336.7,815.7 338.3,815.9 340.0,816.5 341.4,816.7 342.9,816.3 344.3,816.2 345.7,816.3 347.1,815.8 348.6,815.9 350.0,815.5 351.4,815.5 352.9,815.6 354.3,815.5 355.7,815.6 357.1,815.4 358.6,815.5 360.0,815.0 361.4,815.1 362.9,814.8 364.3,815.1 365.7,814.7 367.1,815.5 368.6,815.0 370.0,815.2 371.3,815.0 372.7,815.1 374.0,814.6 375.3,814.6 376.7,813.8 378.0,814.0 380.0,813.2 381.9,811.2 383.8,809.4 385.8,809.4 387.7,810.3 389.6,808.1 391.5,806.5 393.4,805.7 395.4,805.5 397.3,803.0 399.2,800.7 400.6,798.4 402.1,795.9 403.6,792.9 405.0,792.1 406.4,789.2 407.9,785.3 409.4,783.8 410.8,784.4 412.2,783.7 413.7,783.4 415.6,788.2 417.5,779.6 418.9,774.0 420.4,769.0 422.3,775.7 423.8,772.4 425.2,769.0 426.6,769.0 428.1,767.1 430.0,770.9 431.4,767.7 432.9,766.1 434.8,762.3 437.3,762.3 438.7,769.0 440.6,767.1 442.5,776.7 444.4,786.3 445.9,787.9 447.3,788.2 448.8,791.2 450.2,793.0 451.6,794.6 453.1,797.8 454.6,800.3 456.0,801.7 457.4,803.3 458.8,805.5 460.8,808.3 462.7,810.3 464.1,812.7 465.6,814.2 467.5,814.6 469.4,814.2 471.0,814.1 472.6,813.7 474.2,813.2 474.2,817.5" fill="#c3c3c3" stroke="none"/>
<polyline points="299.3,815.0 301.5,814.3 303.7,813.2 306.2,808.9 308.8,801.1 311.4,790.7 314.0,780.3 316.6,768.2 319.2,760.4 320.9,756.6 322.7,753.5 324.4,752.2 326.2,751.8 328.7,756.1 330.5,768.2 333.1,780.3 334.8,790.7 336.5,801.1 339.1,808.9 341.3,812.2 343.5,815.0" fill="none" stroke="#111" stroke-width="1.35" stroke-dasharray="4.5 2.8" stroke-linejoin="round" stroke-linecap="butt"/>
<polyline points="329.6,816.5 331.0,816.3 332.3,816.0 333.6,815.6 335.0,815.5 336.7,815.7 338.3,815.9 340.0,816.5 341.4,816.7 342.9,816.3 344.3,816.2 345.7,816.3 347.1,815.8 348.6,815.9 350.0,815.5 351.4,815.5 352.9,815.6 354.3,815.5 355.7,815.6 357.1,815.4 358.6,815.5 360.0,815.0 361.4,815.1 362.9,814.8 364.3,815.1 365.7,814.7 367.1,815.5 368.6,815.0 370.0,815.2 371.3,815.0 372.7,815.1 374.0,814.6 375.3,814.6 376.7,813.8 378.0,814.0 380.0,813.2 381.9,811.2 383.8,809.4 385.8,809.4 387.7,810.3 389.6,808.1 391.5,806.5 393.4,805.7 395.4,805.5 397.3,803.0 399.2,800.7 400.6,798.4 402.1,795.9 403.6,792.9 405.0,792.1 406.4,789.2 407.9,785.3 409.4,783.8 410.8,784.4 412.2,783.7 413.7,783.4 415.6,788.2 417.5,779.6 418.9,774.0 420.4,769.0 422.3,775.7 423.8,772.4 425.2,769.0 426.6,769.0 428.1,767.1 430.0,770.9 431.4,767.7 432.9,766.1 434.8,762.3 437.3,762.3 438.7,769.0 440.6,767.1 442.5,776.7 444.4,786.3 445.9,787.9 447.3,788.2 448.8,791.2 450.2,793.0 451.6,794.6 453.1,797.8 454.6,800.3 456.0,801.7 457.4,803.3 458.8,805.5 460.8,808.3 462.7,810.3 464.1,812.7 465.6,814.2 467.5,814.6 469.4,814.2 471.0,814.1 472.6,813.7 474.2,813.2" fill="none" stroke="#111" stroke-width="1.3" stroke-linejoin="round"/>
<polygon points="121.8,886.1 121.8,880.0 123.3,878.8 124.9,878.3 127.5,871.4 130.1,862.7 132.7,852.3 134.0,847.8 135.3,843.7 137.9,838.5 140.5,835.0 142.2,836.8 144.0,840.2 146.6,845.4 149.2,850.6 150.9,854.6 152.6,856.7 154.3,858.8 156.1,861.0 157.8,863.1 159.5,866.2 161.2,868.5 163.0,869.7 164.8,871.8 166.5,873.1 169.1,870.5 171.7,874.0 173.4,874.7 175.1,875.7 176.8,875.3 178.6,875.7 180.3,874.8 182.0,874.0 183.8,874.5 185.5,874.8 187.2,874.4 189.0,873.3 190.7,873.1 192.0,873.5 193.3,873.4 194.6,873.5 195.9,874.0 197.6,874.9 199.3,875.7 201.1,876.1 202.8,877.4 204.3,877.8 205.8,877.2 207.2,877.8 208.7,877.9 210.3,878.6 211.9,877.7 213.5,878.5 215.4,877.7 217.3,877.5 218.8,878.1 220.2,879.5 221.8,879.3 223.4,879.3 225.0,878.5 226.9,878.5 228.8,877.5 230.8,878.2 232.7,879.5 234.1,879.8 235.6,880.6 237.1,880.8 238.5,881.4 239.9,881.3 241.2,881.6 242.6,881.7 244.0,881.2 245.4,881.4 246.7,881.4 248.1,881.8 249.5,881.4 250.8,882.4 252.2,882.1 253.6,882.4 255.0,882.2 256.3,882.3 257.7,882.3 259.1,882.1 260.6,882.4 262.1,883.4 263.5,883.3 264.9,883.4 266.2,883.5 267.6,883.8 269.0,883.5 270.4,884.0 271.7,884.3 273.1,884.3 274.4,884.0 275.8,884.2 277.1,884.5 278.5,884.8 279.8,884.8 281.1,884.4 282.5,884.7 283.8,885.1 285.2,884.6 286.5,884.8 286.5,886.1" fill="#c3c3c3" stroke="none"/>
<polyline points="126.0,872.0 129.0,862.0 131.8,850.6 133.6,843.5 135.3,836.8 137.0,831.6 139.6,827.2 142.2,833.3 143.9,837.6 145.7,842.0 147.4,846.7 149.2,850.6 150.9,854.9 152.6,859.3 154.3,863.8 156.1,867.9 158.2,871.6 160.4,874.8 162.6,876.9 164.7,879.2 166.4,880.3 168.2,881.3 169.9,882.6 171.6,882.9 173.4,883.6 175.1,884.1 176.8,884.4" fill="none" stroke="#111" stroke-width="1.35" stroke-dasharray="4.5 2.8" stroke-linejoin="round" stroke-linecap="butt"/>
<polyline points="121.8,880.0 123.3,878.8 124.9,878.3 127.5,871.4 130.1,862.7 132.7,852.3 134.0,847.8 135.3,843.7 137.9,838.5 140.5,835.0 142.2,836.8 144.0,840.2 146.6,845.4 149.2,850.6 150.9,854.6 152.6,856.7 154.3,858.8 156.1,861.0 157.8,863.1 159.5,866.2 161.2,868.5 163.0,869.7 164.8,871.8 166.5,873.1 169.1,870.5 171.7,874.0 173.4,874.7 175.1,875.7 176.8,875.3 178.6,875.7 180.3,874.8 182.0,874.0 183.8,874.5 185.5,874.8 187.2,874.4 189.0,873.3 190.7,873.1 192.0,873.5 193.3,873.4 194.6,873.5 195.9,874.0 197.6,874.9 199.3,875.7 201.1,876.1 202.8,877.4 204.3,877.8 205.8,877.2 207.2,877.8 208.7,877.9 210.3,878.6 211.9,877.7 213.5,878.5 215.4,877.7 217.3,877.5 218.8,878.1 220.2,879.5 221.8,879.3 223.4,879.3 225.0,878.5 226.9,878.5 228.8,877.5 230.8,878.2 232.7,879.5 234.1,879.8 235.6,880.6 237.1,880.8 238.5,881.4 239.9,881.3 241.2,881.6 242.6,881.7 244.0,881.2 245.4,881.4 246.7,881.4 248.1,881.8 249.5,881.4 250.8,882.4 252.2,882.1 253.6,882.4 255.0,882.2 256.3,882.3 257.7,882.3 259.1,882.1 260.6,882.4 262.1,883.4 263.5,883.3 264.9,883.4 266.2,883.5 267.6,883.8 269.0,883.5 270.4,884.0 271.7,884.3 273.1,884.3 274.4,884.0 275.8,884.2 277.1,884.5 278.5,884.8 279.8,884.8 281.1,884.4 282.5,884.7 283.8,885.1 285.2,884.6 286.5,884.8" fill="none" stroke="#111" stroke-width="1.3" stroke-linejoin="round"/>
<polygon points="318.0,885.2 318.0,884.5 319.3,884.5 320.7,884.7 322.0,884.1 323.3,884.3 324.7,884.7 326.0,884.3 327.3,884.5 328.7,884.6 330.0,884.3 331.4,884.5 332.7,884.3 334.1,884.2 335.5,884.1 336.8,884.4 338.2,884.4 339.5,884.3 340.9,884.4 342.3,884.6 343.6,884.3 345.0,884.5 346.4,884.8 347.7,884.2 349.1,884.5 350.5,884.1 351.8,884.6 353.2,884.6 354.5,884.6 355.9,884.1 357.3,884.7 358.6,884.0 360.0,884.3 361.3,884.1 362.7,884.4 364.0,884.0 365.3,884.2 366.7,884.2 368.0,884.1 369.3,884.1 370.7,884.3 372.0,884.0 373.3,883.7 374.7,883.8 376.0,883.9 377.3,883.5 378.7,883.3 380.0,883.3 381.6,883.2 383.2,883.0 384.8,882.3 386.8,881.5 388.7,880.4 390.6,879.1 392.5,877.5 394.4,875.9 396.3,874.7 397.8,871.6 399.2,868.9 400.5,866.7 401.8,865.5 403.1,865.0 404.6,861.7 406.0,859.3 407.4,856.6 408.8,853.5 410.2,850.9 411.7,849.7 413.0,848.8 414.3,850.4 415.6,850.6 417.5,843.9 418.9,846.9 420.4,847.7 421.9,843.0 423.3,839.1 425.2,837.1 427.1,835.2 428.6,833.2 430.0,831.4 431.9,827.5 433.4,828.0 434.8,830.4 436.2,831.3 437.7,834.3 439.1,836.0 440.6,837.2 442.1,837.0 443.5,839.1 444.9,842.4 446.3,845.8 447.8,849.2 449.2,853.5 450.5,854.3 451.8,857.9 453.1,859.3 454.6,861.3 456.0,864.1 457.9,866.0 459.8,869.8 461.8,872.0 463.7,874.7 465.6,876.3 467.5,877.5 470.0,877.5 471.9,867.0 473.8,875.6 474.6,883.3 474.6,885.2" fill="#c3c3c3" stroke="none"/>
<polyline points="298.5,859.3 299.3,880.0 301.9,880.0 304.5,871.4 306.2,862.7 308.8,850.6 310.6,843.7 313.2,835.0 315.8,829.0 318.4,833.3 321.0,840.2 322.7,844.1 324.4,848.9 327.0,857.5 329.6,862.7 331.8,866.1 333.9,869.7 336.1,872.9 338.3,875.7 340.5,877.5 342.6,879.2" fill="none" stroke="#111" stroke-width="1.35" stroke-dasharray="4.5 2.8" stroke-linejoin="round" stroke-linecap="butt"/>
<polyline points="318.0,884.5 319.3,884.5 320.7,884.7 322.0,884.1 323.3,884.3 324.7,884.7 326.0,884.3 327.3,884.5 328.7,884.6 330.0,884.3 331.4,884.5 332.7,884.3 334.1,884.2 335.5,884.1 336.8,884.4 338.2,884.4 339.5,884.3 340.9,884.4 342.3,884.6 343.6,884.3 345.0,884.5 346.4,884.8 347.7,884.2 349.1,884.5 350.5,884.1 351.8,884.6 353.2,884.6 354.5,884.6 355.9,884.1 357.3,884.7 358.6,884.0 360.0,884.3 361.3,884.1 362.7,884.4 364.0,884.0 365.3,884.2 366.7,884.2 368.0,884.1 369.3,884.1 370.7,884.3 372.0,884.0 373.3,883.7 374.7,883.8 376.0,883.9 377.3,883.5 378.7,883.3 380.0,883.3 381.6,883.2 383.2,883.0 384.8,882.3 386.8,881.5 388.7,880.4 390.6,879.1 392.5,877.5 394.4,875.9 396.3,874.7 397.8,871.6 399.2,868.9 400.5,866.7 401.8,865.5 403.1,865.0 404.6,861.7 406.0,859.3 407.4,856.6 408.8,853.5 410.2,850.9 411.7,849.7 413.0,848.8 414.3,850.4 415.6,850.6 417.5,843.9 418.9,846.9 420.4,847.7 421.9,843.0 423.3,839.1 425.2,837.1 427.1,835.2 428.6,833.2 430.0,831.4 431.9,827.5 433.4,828.0 434.8,830.4 436.2,831.3 437.7,834.3 439.1,836.0 440.6,837.2 442.1,837.0 443.5,839.1 444.9,842.4 446.3,845.8 447.8,849.2 449.2,853.5 450.5,854.3 451.8,857.9 453.1,859.3 454.6,861.3 456.0,864.1 457.9,866.0 459.8,869.8 461.8,872.0 463.7,874.7 465.6,876.3 467.5,877.5 470.0,877.5 471.9,867.0 473.8,875.6 474.6,883.3" fill="none" stroke="#111" stroke-width="1.3" stroke-linejoin="round"/>
<line x1="120.0" y1="470.4" x2="477.0" y2="470.4" stroke="#0a0a0a" stroke-width="1.8"/>
<line x1="120.0" y1="541.0" x2="477.0" y2="541.0" stroke="#0a0a0a" stroke-width="1.8"/>
<line x1="120.0" y1="609.8" x2="477.0" y2="609.8" stroke="#0a0a0a" stroke-width="1.8"/>
<line x1="120.0" y1="677.3" x2="477.0" y2="677.3" stroke="#0a0a0a" stroke-width="1.8"/>
<line x1="120.0" y1="746.0" x2="477.0" y2="746.0" stroke="#0a0a0a" stroke-width="1.8"/>
<line x1="120.0" y1="818.8" x2="477.0" y2="818.8" stroke="#0a0a0a" stroke-width="1.8"/>
<line x1="120.0" y1="886.1" x2="477.0" y2="886.1" stroke="#0a0a0a" stroke-width="1.8"/>
<line x1="120.9" y1="470.4" x2="120.9" y2="886.1" stroke="#0a0a0a" stroke-width="1.8"/>
<line x1="297.0" y1="470.4" x2="297.0" y2="886.1" stroke="#111" stroke-width="2.1"/>
<line x1="476.0" y1="470.4" x2="476.0" y2="886.1" stroke="#333" stroke-width="1.7"/>
<line x1="122.9" y1="886.1" x2="122.9" y2="890.6" stroke="#111" stroke-width="1.4"/>
<line x1="166.2" y1="886.1" x2="166.2" y2="890.6" stroke="#111" stroke-width="1.4"/>
<line x1="209.8" y1="886.1" x2="209.8" y2="890.6" stroke="#111" stroke-width="1.4"/>
<line x1="253.6" y1="886.1" x2="253.6" y2="890.6" stroke="#111" stroke-width="1.4"/>
<line x1="297" y1="886.1" x2="297" y2="890.6" stroke="#111" stroke-width="1.4"/>
<line x1="342.6" y1="886.1" x2="342.6" y2="890.6" stroke="#111" stroke-width="1.4"/>
<line x1="386.3" y1="886.1" x2="386.3" y2="890.6" stroke="#111" stroke-width="1.4"/>
<line x1="429.6" y1="886.1" x2="429.6" y2="890.6" stroke="#111" stroke-width="1.4"/>
<line x1="475.3" y1="886.1" x2="475.3" y2="890.6" stroke="#111" stroke-width="1.4"/>
<text x="110.7" y="902.7" font-size="13.5">10<tspan font-size="8.4" dy="-4.6">0</tspan></text>
<text x="153.4" y="902.7" font-size="13.5">10<tspan font-size="8.4" dy="-4.6">1</tspan></text>
<text x="198" y="902.7" font-size="13.5">10<tspan font-size="8.4" dy="-4.6">2</tspan></text>
<text x="241.6" y="902.7" font-size="13.5">10<tspan font-size="8.4" dy="-4.6">3</tspan></text>
<text x="284.7" y="902.7" font-size="13.5">10<tspan font-size="8.4" dy="-4.6">4</tspan></text>
<text x="331.5" y="902.7" font-size="13.5">10<tspan font-size="8.4" dy="-4.6">1</tspan></text>
<text x="375.2" y="902.7" font-size="13.5">10<tspan font-size="8.4" dy="-4.6">2</tspan></text>
<text x="418.5" y="902.7" font-size="13.5">10<tspan font-size="8.4" dy="-4.6">3</tspan></text>
<text x="462.6" y="902.7" font-size="13.5">10<tspan font-size="8.4" dy="-4.6">4</tspan></text>
<polygon points="78.6,1108.6 78.6,1107.4 80.0,1107.1 81.4,1106.9 82.8,1106.3 84.2,1105.1 85.6,1103.0 87.0,1102.1 88.4,1099.9 89.9,1097.0 91.3,1094.7 92.7,1092.1 94.1,1089.8 95.5,1088.3 96.9,1087.3 98.3,1085.4 99.7,1083.1 101.1,1082.1 102.6,1079.5 104.0,1078.8 105.5,1076.5 107.1,1075.7 108.7,1073.3 110.3,1071.4 112.4,1072.5 114.0,1074.4 115.6,1075.7 117.2,1077.3 118.8,1079.9 120.3,1082.9 121.9,1084.1 123.5,1086.1 125.1,1088.3 126.5,1090.6 127.9,1090.9 129.3,1092.6 130.7,1094.6 132.2,1095.8 133.6,1096.8 135.2,1097.0 136.8,1098.0 138.3,1098.4 139.9,1098.9 141.5,1099.0 143.1,1099.7 144.7,1099.6 146.3,1100.0 147.9,1100.5 149.4,1100.5 151.0,1100.5 152.6,1100.6 154.2,1101.2 155.8,1100.9 157.4,1100.6 159.0,1101.0 160.6,1101.4 162.2,1101.3 163.7,1101.6 165.3,1102.1 166.9,1102.1 168.5,1103.4 170.1,1103.3 171.7,1104.2 174.2,1104.2 175.5,1104.3 176.8,1103.3 178.2,1103.9 179.5,1103.2 180.8,1103.9 182.2,1104.1 183.5,1104.5 184.8,1104.9 186.2,1104.8 187.6,1105.1 189.1,1105.1 190.5,1105.4 191.9,1105.2 193.3,1105.3 194.7,1105.4 196.1,1105.3 197.5,1105.9 198.9,1106.1 200.3,1105.9 201.7,1106.3 203.1,1106.2 204.5,1106.5 205.9,1106.7 207.4,1107.1 208.8,1107.5 210.2,1107.4 211.5,1107.6 212.8,1107.9 214.2,1107.5 215.5,1107.6 216.8,1108.0 218.2,1108.0 219.5,1108.2 220.8,1108.0 220.8,1108.6" fill="#d7d7d7" stroke="none"/>
<polyline points="77.5,1107.4 79.3,1104.7 81.0,1101.6 82.8,1098.9 84.9,1092.9 87.0,1086.2 89.2,1079.2 91.3,1071.4 93.4,1065.1 95.5,1058.7 97.1,1054.7 98.7,1050.3 101.8,1051.3 103.4,1052.1 105.0,1052.4 107.1,1058.7 108.7,1064.0 110.3,1069.3 111.9,1072.9 113.5,1075.7 115.1,1080.3 116.7,1084.1 118.8,1089.7 120.9,1094.7 123.0,1099.0 125.1,1103.2 126.9,1105.0 128.6,1106.8 130.4,1108.4" fill="none" stroke="#111" stroke-width="1.3" stroke-dasharray="4.5 2.8" stroke-linejoin="round" stroke-linecap="butt"/>
<polyline points="78.6,1107.4 80.0,1107.1 81.4,1106.9 82.8,1106.3 84.2,1105.1 85.6,1103.0 87.0,1102.1 88.4,1099.9 89.9,1097.0 91.3,1094.7 92.7,1092.1 94.1,1089.8 95.5,1088.3 96.9,1087.3 98.3,1085.4 99.7,1083.1 101.1,1082.1 102.6,1079.5 104.0,1078.8 105.5,1076.5 107.1,1075.7 108.7,1073.3 110.3,1071.4 112.4,1072.5 114.0,1074.4 115.6,1075.7 117.2,1077.3 118.8,1079.9 120.3,1082.9 121.9,1084.1 123.5,1086.1 125.1,1088.3 126.5,1090.6 127.9,1090.9 129.3,1092.6 130.7,1094.6 132.2,1095.8 133.6,1096.8 135.2,1097.0 136.8,1098.0 138.3,1098.4 139.9,1098.9 141.5,1099.0 143.1,1099.7 144.7,1099.6 146.3,1100.0 147.9,1100.5 149.4,1100.5 151.0,1100.5 152.6,1100.6 154.2,1101.2 155.8,1100.9 157.4,1100.6 159.0,1101.0 160.6,1101.4 162.2,1101.3 163.7,1101.6 165.3,1102.1 166.9,1102.1 168.5,1103.4 170.1,1103.3 171.7,1104.2 174.2,1104.2 175.5,1104.3 176.8,1103.3 178.2,1103.9 179.5,1103.2 180.8,1103.9 182.2,1104.1 183.5,1104.5 184.8,1104.9 186.2,1104.8 187.6,1105.1 189.1,1105.1 190.5,1105.4 191.9,1105.2 193.3,1105.3 194.7,1105.4 196.1,1105.3 197.5,1105.9 198.9,1106.1 200.3,1105.9 201.7,1106.3 203.1,1106.2 204.5,1106.5 205.9,1106.7 207.4,1107.1 208.8,1107.5 210.2,1107.4 211.5,1107.6 212.8,1107.9 214.2,1107.5 215.5,1107.6 216.8,1108.0 218.2,1108.0 219.5,1108.2 220.8,1108.0" fill="none" stroke="#111" stroke-width="1.15" stroke-linejoin="round"/>
<polygon points="291.0,1108.6 291.0,1107.4 292.6,1106.2 294.2,1105.3 295.8,1102.6 297.4,1100.0 299.0,1097.3 300.6,1094.7 302.1,1091.9 303.7,1089.4 305.3,1087.7 306.9,1086.2 308.5,1084.3 310.1,1084.1 311.7,1086.8 313.3,1088.3 314.9,1091.6 316.4,1094.7 318.0,1097.6 319.6,1100.0 321.0,1100.5 322.4,1100.9 323.8,1102.1 325.2,1102.9 326.7,1102.6 328.1,1103.2 329.6,1104.0 331.2,1104.2 332.8,1103.5 334.4,1102.1 336.0,1100.8 337.6,1098.9 339.2,1096.9 340.8,1094.7 342.2,1094.4 343.6,1093.3 345.0,1091.5 346.3,1091.6 347.6,1090.8 349.0,1090.0 350.3,1090.5 351.7,1088.9 353.1,1089.4 354.5,1088.3 356.1,1086.5 357.7,1085.2 359.3,1086.1 360.9,1088.3 362.3,1088.5 363.7,1088.2 365.1,1087.3 366.5,1088.3 367.9,1088.0 369.3,1088.3 370.6,1086.2 372.0,1086.2 373.6,1086.8 375.2,1087.3 376.8,1084.6 378.3,1082.0 379.9,1082.9 381.5,1085.2 383.1,1084.7 384.7,1083.1 386.3,1081.4 387.9,1079.9 389.4,1078.6 391.0,1075.7 393.2,1071.4 395.3,1078.8 397.4,1075.2 399.5,1075.7 402.0,1071.8 403.4,1073.6 404.8,1076.7 406.4,1076.9 408.0,1075.7 409.6,1075.9 411.1,1077.8 412.7,1078.2 414.3,1078.8 415.9,1079.0 417.5,1080.9 419.1,1081.3 420.7,1079.9 422.2,1082.4 423.8,1083.1 425.4,1084.7 427.0,1087.3 428.4,1086.5 429.8,1085.9 431.2,1085.2 432.6,1087.2 434.1,1089.0 435.5,1089.4 436.9,1091.9 438.3,1093.4 439.7,1094.7 441.1,1095.1 442.5,1095.4 443.9,1094.7 445.3,1095.7 446.8,1096.1 448.2,1097.9 449.6,1099.2 451.0,1100.8 452.4,1102.1 453.8,1103.0 455.2,1103.4 456.6,1104.2 458.2,1104.3 459.8,1105.4 461.4,1105.9 463.0,1106.3 464.6,1106.3 466.1,1106.7 467.7,1106.9 469.3,1107.0 470.9,1106.3 472.5,1105.3 474.1,1106.1 475.7,1107.4 475.7,1108.6" fill="#d7d7d7" stroke="none"/>
<polyline points="286.8,1108.4 288.9,1105.9 291.0,1103.2 294.2,1094.7 297.4,1086.2 299.0,1080.9 300.6,1075.7 303.7,1063.0 306.9,1054.5 308.5,1052.1 310.1,1049.2 312.2,1047.7 314.3,1047.1 317.5,1050.3 320.7,1060.8 322.8,1067.4 324.9,1073.5 326.5,1077.0 328.1,1079.9 331.2,1088.3 334.4,1094.7 336.0,1098.8 337.6,1103.2 339.7,1108.4" fill="none" stroke="#111" stroke-width="1.3" stroke-dasharray="4.5 2.8" stroke-linejoin="round" stroke-linecap="butt"/>
<polyline points="291.0,1107.4 292.6,1106.2 294.2,1105.3 295.8,1102.6 297.4,1100.0 299.0,1097.3 300.6,1094.7 302.1,1091.9 303.7,1089.4 305.3,1087.7 306.9,1086.2 308.5,1084.3 310.1,1084.1 311.7,1086.8 313.3,1088.3 314.9,1091.6 316.4,1094.7 318.0,1097.6 319.6,1100.0 321.0,1100.5 322.4,1100.9 323.8,1102.1 325.2,1102.9 326.7,1102.6 328.1,1103.2 329.6,1104.0 331.2,1104.2 332.8,1103.5 334.4,1102.1 336.0,1100.8 337.6,1098.9 339.2,1096.9 340.8,1094.7 342.2,1094.4 343.6,1093.3 345.0,1091.5 346.3,1091.6 347.6,1090.8 349.0,1090.0 350.3,1090.5 351.7,1088.9 353.1,1089.4 354.5,1088.3 356.1,1086.5 357.7,1085.2 359.3,1086.1 360.9,1088.3 362.3,1088.5 363.7,1088.2 365.1,1087.3 366.5,1088.3 367.9,1088.0 369.3,1088.3 370.6,1086.2 372.0,1086.2 373.6,1086.8 375.2,1087.3 376.8,1084.6 378.3,1082.0 379.9,1082.9 381.5,1085.2 383.1,1084.7 384.7,1083.1 386.3,1081.4 387.9,1079.9 389.4,1078.6 391.0,1075.7 393.2,1071.4 395.3,1078.8 397.4,1075.2 399.5,1075.7 402.0,1071.8 403.4,1073.6 404.8,1076.7 406.4,1076.9 408.0,1075.7 409.6,1075.9 411.1,1077.8 412.7,1078.2 414.3,1078.8 415.9,1079.0 417.5,1080.9 419.1,1081.3 420.7,1079.9 422.2,1082.4 423.8,1083.1 425.4,1084.7 427.0,1087.3 428.4,1086.5 429.8,1085.9 431.2,1085.2 432.6,1087.2 434.1,1089.0 435.5,1089.4 436.9,1091.9 438.3,1093.4 439.7,1094.7 441.1,1095.1 442.5,1095.4 443.9,1094.7 445.3,1095.7 446.8,1096.1 448.2,1097.9 449.6,1099.2 451.0,1100.8 452.4,1102.1 453.8,1103.0 455.2,1103.4 456.6,1104.2 458.2,1104.3 459.8,1105.4 461.4,1105.9 463.0,1106.3 464.6,1106.3 466.1,1106.7 467.7,1106.9 469.3,1107.0 470.9,1106.3 472.5,1105.3 474.1,1106.1 475.7,1107.4" fill="none" stroke="#111" stroke-width="1.15" stroke-linejoin="round"/>
<polygon points="77.5,1187.6 77.5,1186.3 78.9,1185.7 80.4,1185.8 81.8,1185.3 83.3,1184.1 84.9,1183.2 86.3,1181.8 87.8,1181.6 89.2,1180.0 90.6,1178.3 92.0,1177.4 93.4,1175.8 94.8,1174.5 96.2,1173.4 97.6,1171.5 99.0,1171.1 100.4,1169.6 101.8,1168.3 103.2,1168.5 104.7,1168.1 106.1,1167.3 107.7,1167.4 109.3,1166.2 111.4,1164.5 113.5,1167.3 115.1,1166.9 116.7,1167.3 118.2,1168.3 119.8,1169.4 121.2,1169.5 122.7,1169.4 124.1,1170.5 125.5,1172.0 126.9,1173.2 128.3,1173.6 129.9,1174.4 131.5,1175.8 133.6,1177.9 135.2,1176.6 136.8,1175.8 138.2,1174.9 139.6,1176.0 141.0,1175.1 142.3,1175.6 143.7,1175.7 145.0,1175.6 146.3,1175.8 147.6,1175.3 148.9,1174.7 150.3,1175.7 151.6,1174.7 153.1,1173.0 154.7,1172.6 156.3,1171.2 157.9,1170.5 159.5,1171.8 161.1,1171.5 162.5,1171.5 163.9,1172.7 165.3,1173.6 166.7,1175.1 168.1,1175.4 169.5,1175.8 170.9,1175.7 172.4,1176.0 173.8,1176.8 175.2,1177.6 176.6,1177.9 178.0,1177.9 180.6,1178.5 181.9,1178.6 183.2,1179.9 184.6,1180.1 185.9,1180.6 187.2,1181.0 188.6,1180.8 189.9,1180.3 191.2,1180.0 192.5,1180.8 193.8,1180.6 195.1,1181.1 196.4,1182.1 197.7,1182.8 199.1,1182.2 200.4,1182.7 201.7,1183.2 203.3,1183.6 204.9,1183.7 206.5,1184.7 208.1,1184.9 209.7,1185.5 211.2,1185.1 212.8,1185.7 214.4,1185.7 215.8,1186.1 217.2,1186.4 218.7,1186.0 220.1,1186.6 221.5,1186.5 222.9,1187.0 224.2,1187.0 225.6,1187.0 226.9,1186.7 228.2,1186.7 229.5,1186.9 230.8,1187.0 232.2,1186.6 233.5,1187.0 233.5,1187.6" fill="#d7d7d7" stroke="none"/>
<polyline points="77.5,1187.4 79.7,1184.3 81.8,1181.0 83.9,1175.0 86.0,1168.3 87.6,1163.4 89.2,1157.8 92.3,1147.2 93.9,1143.3 95.5,1138.7 97.1,1134.5 98.7,1129.2 101.8,1132.0 103.4,1131.6 105.0,1130.7 106.6,1134.7 108.2,1137.7 109.8,1141.1 111.4,1145.1 114.5,1151.4 116.7,1159.9 118.8,1168.3 121.9,1176.8 125.1,1182.1 127.2,1184.9 129.3,1187.4" fill="none" stroke="#111" stroke-width="1.3" stroke-dasharray="4.5 2.8" stroke-linejoin="round" stroke-linecap="butt"/>
<polyline points="77.5,1186.3 78.9,1185.7 80.4,1185.8 81.8,1185.3 83.3,1184.1 84.9,1183.2 86.3,1181.8 87.8,1181.6 89.2,1180.0 90.6,1178.3 92.0,1177.4 93.4,1175.8 94.8,1174.5 96.2,1173.4 97.6,1171.5 99.0,1171.1 100.4,1169.6 101.8,1168.3 103.2,1168.5 104.7,1168.1 106.1,1167.3 107.7,1167.4 109.3,1166.2 111.4,1164.5 113.5,1167.3 115.1,1166.9 116.7,1167.3 118.2,1168.3 119.8,1169.4 121.2,1169.5 122.7,1169.4 124.1,1170.5 125.5,1172.0 126.9,1173.2 128.3,1173.6 129.9,1174.4 131.5,1175.8 133.6,1177.9 135.2,1176.6 136.8,1175.8 138.2,1174.9 139.6,1176.0 141.0,1175.1 142.3,1175.6 143.7,1175.7 145.0,1175.6 146.3,1175.8 147.6,1175.3 148.9,1174.7 150.3,1175.7 151.6,1174.7 153.1,1173.0 154.7,1172.6 156.3,1171.2 157.9,1170.5 159.5,1171.8 161.1,1171.5 162.5,1171.5 163.9,1172.7 165.3,1173.6 166.7,1175.1 168.1,1175.4 169.5,1175.8 170.9,1175.7 172.4,1176.0 173.8,1176.8 175.2,1177.6 176.6,1177.9 178.0,1177.9 180.6,1178.5 181.9,1178.6 183.2,1179.9 184.6,1180.1 185.9,1180.6 187.2,1181.0 188.6,1180.8 189.9,1180.3 191.2,1180.0 192.5,1180.8 193.8,1180.6 195.1,1181.1 196.4,1182.1 197.7,1182.8 199.1,1182.2 200.4,1182.7 201.7,1183.2 203.3,1183.6 204.9,1183.7 206.5,1184.7 208.1,1184.9 209.7,1185.5 211.2,1185.1 212.8,1185.7 214.4,1185.7 215.8,1186.1 217.2,1186.4 218.7,1186.0 220.1,1186.6 221.5,1186.5 222.9,1187.0 224.2,1187.0 225.6,1187.0 226.9,1186.7 228.2,1186.7 229.5,1186.9 230.8,1187.0 232.2,1186.6 233.5,1187.0" fill="none" stroke="#111" stroke-width="1.15" stroke-linejoin="round"/>
<polygon points="276.2,1187.6 276.2,1187.4 277.6,1187.1 279.0,1186.8 280.4,1187.0 281.8,1187.2 283.3,1187.0 284.7,1186.8 286.1,1186.5 287.5,1186.3 288.9,1186.3 290.3,1184.9 291.8,1184.3 293.2,1183.2 294.6,1181.8 296.0,1181.1 297.4,1180.0 298.8,1179.6 300.2,1179.1 301.6,1177.9 303.0,1176.3 304.4,1175.2 305.8,1174.7 307.4,1173.5 309.0,1171.5 310.6,1172.1 312.2,1174.3 313.8,1176.0 315.4,1176.8 316.9,1179.0 318.5,1180.6 319.9,1180.5 321.4,1180.5 322.8,1181.0 324.2,1180.5 325.6,1179.8 327.0,1180.0 328.4,1180.4 329.8,1179.8 331.2,1180.0 332.6,1178.8 334.1,1177.0 335.5,1175.8 336.9,1175.1 338.3,1175.1 339.7,1174.7 341.1,1173.9 342.5,1173.2 343.9,1171.5 345.3,1171.2 346.8,1169.5 348.2,1169.4 349.6,1168.9 351.0,1168.5 352.4,1167.3 353.8,1167.4 355.2,1165.7 356.6,1165.2 358.7,1162.0 360.3,1159.5 361.9,1157.8 363.5,1158.9 365.1,1162.0 366.7,1160.4 368.3,1159.9 370.1,1159.4 372.0,1158.8 373.6,1157.7 375.2,1157.8 376.8,1158.2 378.3,1159.9 379.9,1159.4 381.5,1157.3 383.1,1155.9 384.7,1155.7 386.3,1155.4 387.9,1154.0 389.4,1152.5 391.0,1153.1 393.2,1151.4 395.3,1147.2 397.4,1152.5 399.0,1152.6 400.6,1153.1 402.1,1153.2 403.7,1151.4 405.8,1154.6 407.5,1150.4 408.8,1155.2 410.1,1160.9 411.7,1158.9 413.3,1157.8 415.4,1158.8 417.5,1163.7 419.1,1164.1 420.7,1163.1 422.2,1164.5 423.8,1163.7 425.4,1167.0 427.0,1168.3 428.6,1168.6 430.2,1170.5 431.8,1170.2 433.3,1171.5 434.9,1173.5 436.5,1174.7 437.9,1174.8 439.4,1176.4 440.8,1176.8 442.2,1178.1 443.6,1178.0 445.0,1178.9 446.6,1179.7 448.2,1180.0 449.8,1179.5 451.3,1180.0 452.9,1181.1 454.5,1182.7 455.9,1183.0 457.3,1183.3 458.7,1183.2 460.1,1183.6 461.6,1183.5 463.0,1184.2 464.4,1184.7 465.8,1184.5 467.2,1185.3 468.6,1185.5 470.0,1186.3 471.4,1186.3 472.8,1185.7 474.3,1185.5 475.7,1185.3 475.7,1187.6" fill="#d7d7d7" stroke="none"/>
<polyline points="278.3,1187.0 280.4,1186.5 282.6,1186.0 284.7,1185.3 286.8,1183.9 288.9,1182.1 290.5,1179.6 292.1,1176.8 294.2,1168.3 296.3,1159.9 298.4,1154.6 300.6,1147.2 302.7,1138.7 305.8,1131.3 309.0,1127.1 311.1,1124.5 313.3,1122.9 316.4,1127.1 318.0,1130.5 319.6,1134.5 322.8,1143.0 323.8,1151.4 327.0,1154.6 329.1,1164.1 332.3,1170.5 335.5,1176.8 338.6,1182.1 341.8,1187.4" fill="none" stroke="#111" stroke-width="1.3" stroke-dasharray="4.5 2.8" stroke-linejoin="round" stroke-linecap="butt"/>
<polyline points="276.2,1187.4 277.6,1187.1 279.0,1186.8 280.4,1187.0 281.8,1187.2 283.3,1187.0 284.7,1186.8 286.1,1186.5 287.5,1186.3 288.9,1186.3 290.3,1184.9 291.8,1184.3 293.2,1183.2 294.6,1181.8 296.0,1181.1 297.4,1180.0 298.8,1179.6 300.2,1179.1 301.6,1177.9 303.0,1176.3 304.4,1175.2 305.8,1174.7 307.4,1173.5 309.0,1171.5 310.6,1172.1 312.2,1174.3 313.8,1176.0 315.4,1176.8 316.9,1179.0 318.5,1180.6 319.9,1180.5 321.4,1180.5 322.8,1181.0 324.2,1180.5 325.6,1179.8 327.0,1180.0 328.4,1180.4 329.8,1179.8 331.2,1180.0 332.6,1178.8 334.1,1177.0 335.5,1175.8 336.9,1175.1 338.3,1175.1 339.7,1174.7 341.1,1173.9 342.5,1173.2 343.9,1171.5 345.3,1171.2 346.8,1169.5 348.2,1169.4 349.6,1168.9 351.0,1168.5 352.4,1167.3 353.8,1167.4 355.2,1165.7 356.6,1165.2 358.7,1162.0 360.3,1159.5 361.9,1157.8 363.5,1158.9 365.1,1162.0 366.7,1160.4 368.3,1159.9 370.1,1159.4 372.0,1158.8 373.6,1157.7 375.2,1157.8 376.8,1158.2 378.3,1159.9 379.9,1159.4 381.5,1157.3 383.1,1155.9 384.7,1155.7 386.3,1155.4 387.9,1154.0 389.4,1152.5 391.0,1153.1 393.2,1151.4 395.3,1147.2 397.4,1152.5 399.0,1152.6 400.6,1153.1 402.1,1153.2 403.7,1151.4 405.8,1154.6 407.5,1150.4 408.8,1155.2 410.1,1160.9 411.7,1158.9 413.3,1157.8 415.4,1158.8 417.5,1163.7 419.1,1164.1 420.7,1163.1 422.2,1164.5 423.8,1163.7 425.4,1167.0 427.0,1168.3 428.6,1168.6 430.2,1170.5 431.8,1170.2 433.3,1171.5 434.9,1173.5 436.5,1174.7 437.9,1174.8 439.4,1176.4 440.8,1176.8 442.2,1178.1 443.6,1178.0 445.0,1178.9 446.6,1179.7 448.2,1180.0 449.8,1179.5 451.3,1180.0 452.9,1181.1 454.5,1182.7 455.9,1183.0 457.3,1183.3 458.7,1183.2 460.1,1183.6 461.6,1183.5 463.0,1184.2 464.4,1184.7 465.8,1184.5 467.2,1185.3 468.6,1185.5 470.0,1186.3 471.4,1186.3 472.8,1185.7 474.3,1185.5 475.7,1185.3" fill="none" stroke="#111" stroke-width="1.15" stroke-linejoin="round"/>
<line x1="70.7" y1="1029.7" x2="478.09999999999997" y2="1029.7" stroke="#151515" stroke-width="1.5"/>
<line x1="70.7" y1="1109.4" x2="478.09999999999997" y2="1109.4" stroke="#151515" stroke-width="1.5"/>
<line x1="70.7" y1="1187.9" x2="478.09999999999997" y2="1187.9" stroke="#151515" stroke-width="1.5"/>
<line x1="71.4" y1="1029.7" x2="71.4" y2="1187.9" stroke="#0a0a0a" stroke-width="1.5"/>
<line x1="274.6" y1="1029.7" x2="274.6" y2="1187.9" stroke="#000" stroke-width="2.6"/>
<line x1="477.4" y1="1029.7" x2="477.4" y2="1187.9" stroke="#1a1a1a" stroke-width="1.5"/>
<line x1="72.3" y1="1187.9" x2="72.3" y2="1192.4" stroke="#111" stroke-width="1.4"/>
<line x1="121.9" y1="1187.9" x2="121.9" y2="1192.4" stroke="#111" stroke-width="1.4"/>
<line x1="172.5" y1="1187.9" x2="172.5" y2="1192.4" stroke="#111" stroke-width="1.4"/>
<line x1="222" y1="1187.9" x2="222" y2="1192.4" stroke="#111" stroke-width="1.4"/>
<line x1="274.8" y1="1187.9" x2="274.8" y2="1192.4" stroke="#111" stroke-width="1.4"/>
<line x1="324.6" y1="1187.9" x2="324.6" y2="1192.4" stroke="#111" stroke-width="1.4"/>
<line x1="374.6" y1="1187.9" x2="374.6" y2="1192.4" stroke="#111" stroke-width="1.4"/>
<line x1="425" y1="1187.9" x2="425" y2="1192.4" stroke="#111" stroke-width="1.4"/>
<line x1="476.5" y1="1187.9" x2="476.5" y2="1192.4" stroke="#111" stroke-width="1.4"/>
<text x="58.2" y="1208.7" font-size="15.5">10<tspan font-size="9.8" dy="-5.7">0</tspan></text>
<text x="110.3" y="1208.7" font-size="15.5">10<tspan font-size="9.8" dy="-5.7">1</tspan></text>
<text x="160.3" y="1208.7" font-size="15.5">10<tspan font-size="9.8" dy="-5.7">2</tspan></text>
<text x="207.8" y="1208.7" font-size="15.5">10<tspan font-size="9.8" dy="-5.7">3</tspan></text>
<text x="257.8" y="1208.7" font-size="15.5">10<tspan font-size="9.8" dy="-5.7">4</tspan></text>
<text x="314.4" y="1208.7" font-size="15.5">10<tspan font-size="9.8" dy="-5.7">1</tspan></text>
<text x="363.4" y="1208.7" font-size="15.5">10<tspan font-size="9.8" dy="-5.7">2</tspan></text>
<text x="412.5" y="1208.7" font-size="15.5">10<tspan font-size="9.8" dy="-5.7">3</tspan></text>
<text x="465.3" y="1208.7" font-size="15.5">10<tspan font-size="9.8" dy="-5.7">4</tspan></text>
<g transform="matrix(1.0938 0 0 1.0294 -109.22 -186.38)"><text x="100" y="200" font-size="24.0">A</text></g>
<g transform="matrix(1.0078 0 0 1.0611 73.52 -190.32)"><text x="100" y="200" font-size="26.0">WEHI-3</text></g>
<g transform="matrix(1.0188 0 0 1.0667 248.78 -191.33)"><text x="100" y="200" font-size="26.0">HL-60</text></g>
<g transform="matrix(1.0250 0 0 0.9800 164.17 -142.80)"><text x="100" y="200" font-size="20.0">anti-Le</text></g>
<g transform="matrix(1.2500 0 0 1.0700 207.05 -167.10)"><text x="100" y="200" font-size="14.5">X</text></g>
<g transform="matrix(1.3333 0 0 1.0111 -133.10 -128.02)"><text x="100" y="200" font-size="24.0">i</text></g>
<g transform="matrix(0.9783 0 0 0.9643 -39.60 -83.56)"><text x="100" y="200" font-size="20.0">MMA</text></g>
<g transform="matrix(1.0049 0 0 0.9929 -99.70 -12.77)"><text x="100" y="200" font-size="20.0">SMLEX-M3</text></g>
<g transform="matrix(1.0176 0 0 0.9571 -32.38 63.47)"><text x="100" y="200" font-size="20.0">P12</text></g>
<g transform="matrix(0.9951 0 0 1.0429 -36.31 115.63)"><text x="100" y="200" font-size="20.0">HI98</text></g>
<g transform="matrix(1.0245 0 0 0.9750 141.80 181.90)"><text x="100" y="200" font-size="22.0">mAb-FITC</text></g>
<g transform="matrix(1.0800 0 0 0.9833 -107.46 268.73)"><text x="100" y="200" font-size="24.0">ii</text></g>
<g transform="matrix(1.0200 0 0 0.9933 155.68 252.53)"><text x="100" y="200" font-size="20.0">anti-sLe</text></g>
<g transform="matrix(1.2500 0 0 1.0500 209.75 234.20)"><text x="100" y="200" font-size="14.5">X</text></g>
<g transform="matrix(0.9759 0 0 0.9429 -77.17 319.73)"><text x="100" y="200" font-size="20.0">CSLEX-1</text></g>
<g transform="matrix(1.0032 0 0 0.9571 -91.62 387.37)"><text x="100" y="200" font-size="20.0">HECA-452</text></g>
<g transform="matrix(1.0303 0 0 0.9429 -33.06 458.83)"><text x="100" y="200" font-size="20.0">2F3</text></g>
<g transform="matrix(0.9868 0 0 0.9929 -71.97 517.63)"><text x="100" y="200" font-size="20.0">CHO131</text></g>
<g transform="matrix(1.0343 0 0 0.9571 -35.66 597.37)"><text x="100" y="200" font-size="20.0">2H5</text></g>
<g transform="matrix(0.9769 0 0 1.0357 -44.47 650.86)"><text x="100" y="200" font-size="20.0">KM93</text></g>
<g transform="matrix(1.0275 0 0 1.0250 141.00 732.70)"><text x="100" y="200" font-size="22.0">mAb-FITC</text></g>
<g transform="matrix(1.0500 0 0 1.0176 -105.60 778.37)"><text x="100" y="200" font-size="24.0">B</text></g>
<g transform="matrix(0.9894 0 0 1.0421 26.06 776.08)"><text x="100" y="200" font-size="27.0">WEHI-3</text></g>
<g transform="matrix(1.0085 0 0 1.0611 236.04 772.28)"><text x="100" y="200" font-size="26.5">HL-60</text></g>
<g transform="matrix(1.0140 0 0 0.9867 88.89 818.67)"><text x="100" y="200" font-size="20.0">Pronase-treated</text></g>
<g transform="matrix(1.0571 0 0 0.9929 -89.57 879.13)"><text x="100" y="200" font-size="20.0">2H5</text></g>
<g transform="matrix(1.0077 0 0 0.9857 -99.98 952.86)"><text x="100" y="200" font-size="20.0">KM93</text></g>
<g transform="matrix(1.0153 0 0 1.0316 107.64 1036.28)"><text x="100" y="200" font-size="26.5">mAb-FITC</text></g>
<g transform="matrix(1.0333 0 0 1.0025 193.00 71.07)"><text transform="translate(300,50) rotate(90)" font-size="20.4">Relative cell number</text></g>
<g transform="matrix(1.0333 0 0 0.9980 193.00 526.40)"><text transform="translate(300,50) rotate(90)" font-size="20.4">Relative cell number</text></g>
<g transform="matrix(0.9667 0 0 1.0042 214.00 953.59)"><text transform="translate(300,50) rotate(90)" font-size="19.7">Relative cell number</text></g>
<g class="num" transform="matrix(0.9857 0 0 1.0556 187.43 -122.01)"><text x="100" y="200" font-size="13.0">4</text></g>
<g class="num" transform="matrix(1.0429 0 0 1.0778 179.51 -56.46)"><text x="100" y="200" font-size="13.0">4</text></g>
<g class="num" transform="matrix(1.0143 0 0 1.0556 182.37 19.39)"><text x="100" y="200" font-size="13.0">4</text></g>
<g class="num" transform="matrix(1.0143 0 0 1.0778 182.37 84.94)"><text x="100" y="200" font-size="13.0">4</text></g>
<g class="num" transform="matrix(1.0238 0 0 1.0222 349.12 -115.24)"><text x="100" y="200" font-size="13.0">465</text></g>
<g class="num" transform="matrix(1.0950 0 0 1.0222 340.60 -44.84)"><text x="100" y="200" font-size="13.0">228</text></g>
<g class="num" transform="matrix(1.0450 0 0 1.0556 345.85 18.59)"><text x="100" y="200" font-size="13.0">560</text></g>
<g class="num" transform="matrix(1.0650 0 0 1.0889 343.83 82.82)"><text x="100" y="200" font-size="13.0">570</text></g>
<g class="num" transform="matrix(1.0692 0 0 0.9778 171.61 287.44)"><text x="100" y="200" font-size="13.0">12</text></g>
<g class="num" transform="matrix(1.0286 0 0 1.0778 184.04 340.24)"><text x="100" y="200" font-size="13.0">4</text></g>
<g class="num" transform="matrix(1.0143 0 0 1.1000 186.07 403.60)"><text x="100" y="200" font-size="13.0">4</text></g>
<g class="num" transform="matrix(1.1833 0 0 1.0778 167.98 475.54)"><text x="100" y="200" font-size="13.0">5</text></g>
<g class="num" transform="matrix(1.0077 0 0 1.1222 179.72 534.66)"><text x="100" y="200" font-size="13.0">21</text></g>
<g class="num" transform="matrix(1.1154 0 0 0.9556 168.85 640.59)"><text x="100" y="200" font-size="13.0">89</text></g>
<g class="num" transform="matrix(1.0393 0 0 1.0556 340.03 272.59)"><text x="100" y="200" font-size="13.0">1233</text></g>
<g class="num" transform="matrix(1.0400 0 0 1.0222 346.86 350.56)"><text x="100" y="200" font-size="13.0">360</text></g>
<g class="num" transform="matrix(1.0650 0 0 1.0222 344.33 418.56)"><text x="100" y="200" font-size="13.0">230</text></g>
<g class="num" transform="matrix(1.0429 0 0 1.0667 347.61 477.27)"><text x="100" y="200" font-size="13.0">417</text></g>
<g class="num" transform="matrix(1.0556 0 0 1.1111 338.39 536.58)"><text x="100" y="200" font-size="13.0">1160</text></g>
<g class="num" transform="matrix(1.0667 0 0 1.0889 337.27 614.72)"><text x="100" y="200" font-size="13.0">1467</text></g>
</svg>
</body></html>
